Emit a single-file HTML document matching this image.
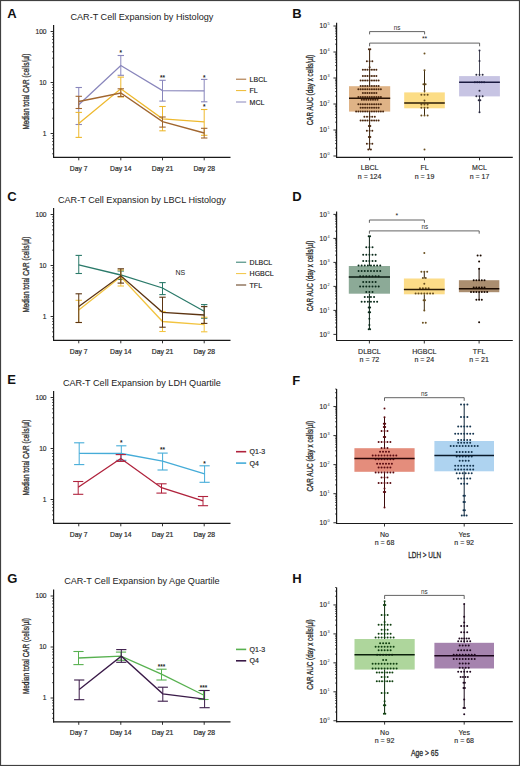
<!DOCTYPE html>
<html><head><meta charset="utf-8"><style>
html,body{margin:0;padding:0;background:#fff;}
svg{display:block;font-family:"Liberation Sans", sans-serif;}
</style></head><body>
<svg width="520" height="766" viewBox="0 0 520 766">
<rect x="0" y="0" width="520" height="766" fill="#fff"/>
<text x="7.20" y="18.10" font-size="13" text-anchor="start" font-weight="bold" fill="#111" >A</text>
<text x="141.90" y="19.70" font-size="9.1" text-anchor="middle" font-weight="normal" fill="#222" >CAR-T Cell Expansion by Histology</text>
<line x1="53.60" y1="25.00" x2="53.60" y2="157.90" stroke="#1a1a1a" stroke-width="1.2" />
<line x1="53.00" y1="157.30" x2="230.50" y2="157.30" stroke="#1a1a1a" stroke-width="1.2" />
<line x1="50.60" y1="31.50" x2="53.60" y2="31.50" stroke="#1a1a1a" stroke-width="0.9" />
<text x="46.60" y="33.80" font-size="6.7" text-anchor="end" font-weight="normal" fill="#2a2a2a" stroke="#2a2a2a" stroke-width="0.15" >100</text>
<line x1="50.60" y1="82.50" x2="53.60" y2="82.50" stroke="#1a1a1a" stroke-width="0.9" />
<text x="46.60" y="84.80" font-size="6.7" text-anchor="end" font-weight="normal" fill="#2a2a2a" stroke="#2a2a2a" stroke-width="0.15" >10</text>
<line x1="50.60" y1="133.50" x2="53.60" y2="133.50" stroke="#1a1a1a" stroke-width="0.9" />
<text x="46.60" y="135.80" font-size="6.7" text-anchor="end" font-weight="normal" fill="#2a2a2a" stroke="#2a2a2a" stroke-width="0.15" >1</text>
<line x1="52.00" y1="153.79" x2="53.60" y2="153.79" stroke="#1a1a1a" stroke-width="0.7" />
<line x1="52.00" y1="148.85" x2="53.60" y2="148.85" stroke="#1a1a1a" stroke-width="0.7" />
<line x1="52.00" y1="144.81" x2="53.60" y2="144.81" stroke="#1a1a1a" stroke-width="0.7" />
<line x1="52.00" y1="141.40" x2="53.60" y2="141.40" stroke="#1a1a1a" stroke-width="0.7" />
<line x1="52.00" y1="138.44" x2="53.60" y2="138.44" stroke="#1a1a1a" stroke-width="0.7" />
<line x1="52.00" y1="135.83" x2="53.60" y2="135.83" stroke="#1a1a1a" stroke-width="0.7" />
<line x1="52.00" y1="118.15" x2="53.60" y2="118.15" stroke="#1a1a1a" stroke-width="0.7" />
<line x1="52.00" y1="109.17" x2="53.60" y2="109.17" stroke="#1a1a1a" stroke-width="0.7" />
<line x1="52.00" y1="102.79" x2="53.60" y2="102.79" stroke="#1a1a1a" stroke-width="0.7" />
<line x1="52.00" y1="97.85" x2="53.60" y2="97.85" stroke="#1a1a1a" stroke-width="0.7" />
<line x1="52.00" y1="93.81" x2="53.60" y2="93.81" stroke="#1a1a1a" stroke-width="0.7" />
<line x1="52.00" y1="90.40" x2="53.60" y2="90.40" stroke="#1a1a1a" stroke-width="0.7" />
<line x1="52.00" y1="87.44" x2="53.60" y2="87.44" stroke="#1a1a1a" stroke-width="0.7" />
<line x1="52.00" y1="84.83" x2="53.60" y2="84.83" stroke="#1a1a1a" stroke-width="0.7" />
<line x1="52.00" y1="67.15" x2="53.60" y2="67.15" stroke="#1a1a1a" stroke-width="0.7" />
<line x1="52.00" y1="58.17" x2="53.60" y2="58.17" stroke="#1a1a1a" stroke-width="0.7" />
<line x1="52.00" y1="51.79" x2="53.60" y2="51.79" stroke="#1a1a1a" stroke-width="0.7" />
<line x1="52.00" y1="46.85" x2="53.60" y2="46.85" stroke="#1a1a1a" stroke-width="0.7" />
<line x1="52.00" y1="42.81" x2="53.60" y2="42.81" stroke="#1a1a1a" stroke-width="0.7" />
<line x1="52.00" y1="39.40" x2="53.60" y2="39.40" stroke="#1a1a1a" stroke-width="0.7" />
<line x1="52.00" y1="36.44" x2="53.60" y2="36.44" stroke="#1a1a1a" stroke-width="0.7" />
<line x1="52.00" y1="33.83" x2="53.60" y2="33.83" stroke="#1a1a1a" stroke-width="0.7" />
<line x1="78.75" y1="157.30" x2="78.75" y2="160.30" stroke="#1a1a1a" stroke-width="0.9" />
<text x="78.75" y="170.60" font-size="6.8" text-anchor="middle" font-weight="normal" fill="#2a2a2a" stroke="#2a2a2a" stroke-width="0.2" >Day 7</text>
<line x1="120.80" y1="157.30" x2="120.80" y2="160.30" stroke="#1a1a1a" stroke-width="0.9" />
<text x="120.80" y="170.60" font-size="6.8" text-anchor="middle" font-weight="normal" fill="#2a2a2a" stroke="#2a2a2a" stroke-width="0.2" >Day 14</text>
<line x1="162.50" y1="157.30" x2="162.50" y2="160.30" stroke="#1a1a1a" stroke-width="0.9" />
<text x="162.50" y="170.60" font-size="6.8" text-anchor="middle" font-weight="normal" fill="#2a2a2a" stroke="#2a2a2a" stroke-width="0.2" >Day 21</text>
<line x1="204.20" y1="157.30" x2="204.20" y2="160.30" stroke="#1a1a1a" stroke-width="0.9" />
<text x="204.20" y="170.60" font-size="6.8" text-anchor="middle" font-weight="normal" fill="#2a2a2a" stroke="#2a2a2a" stroke-width="0.2" >Day 28</text>
<text x="0" y="0" font-size="9.0" font-weight="normal" fill="#2a2a2a" stroke="#2a2a2a" stroke-width="0.3" text-anchor="middle" textLength="76" lengthAdjust="spacingAndGlyphs" transform="translate(29.4 91.55) rotate(-90)">Median total CAR (cells/µl)</text>
<line x1="78.75" y1="87.50" x2="78.75" y2="124.50" stroke="#8986bc" stroke-width="1.0" />
<line x1="75.55" y1="87.50" x2="81.95" y2="87.50" stroke="#8986bc" stroke-width="1.1" />
<line x1="75.55" y1="124.50" x2="81.95" y2="124.50" stroke="#8986bc" stroke-width="1.1" />
<line x1="120.80" y1="55.50" x2="120.80" y2="75.30" stroke="#8986bc" stroke-width="1.0" />
<line x1="117.60" y1="55.50" x2="124.00" y2="55.50" stroke="#8986bc" stroke-width="1.1" />
<line x1="117.60" y1="75.30" x2="124.00" y2="75.30" stroke="#8986bc" stroke-width="1.1" />
<line x1="162.50" y1="80.30" x2="162.50" y2="101.10" stroke="#8986bc" stroke-width="1.0" />
<line x1="159.30" y1="80.30" x2="165.70" y2="80.30" stroke="#8986bc" stroke-width="1.1" />
<line x1="159.30" y1="101.10" x2="165.70" y2="101.10" stroke="#8986bc" stroke-width="1.1" />
<line x1="204.20" y1="79.40" x2="204.20" y2="101.80" stroke="#8986bc" stroke-width="1.0" />
<line x1="201.00" y1="79.40" x2="207.40" y2="79.40" stroke="#8986bc" stroke-width="1.1" />
<line x1="201.00" y1="101.80" x2="207.40" y2="101.80" stroke="#8986bc" stroke-width="1.1" />
<polyline points="78.75,104.70 120.80,65.50 162.50,90.60 204.20,90.80" fill="none" stroke="#8986bc" stroke-width="1.3" stroke-linejoin="miter"/>
<line x1="78.75" y1="112.40" x2="78.75" y2="137.40" stroke="#eeb92e" stroke-width="1.0" />
<line x1="75.55" y1="112.40" x2="81.95" y2="112.40" stroke="#eeb92e" stroke-width="1.1" />
<line x1="75.55" y1="137.40" x2="81.95" y2="137.40" stroke="#eeb92e" stroke-width="1.1" />
<line x1="120.80" y1="77.10" x2="120.80" y2="97.00" stroke="#eeb92e" stroke-width="1.0" />
<line x1="117.60" y1="77.10" x2="124.00" y2="77.10" stroke="#eeb92e" stroke-width="1.1" />
<line x1="117.60" y1="97.00" x2="124.00" y2="97.00" stroke="#eeb92e" stroke-width="1.1" />
<line x1="162.50" y1="106.50" x2="162.50" y2="130.80" stroke="#eeb92e" stroke-width="1.0" />
<line x1="159.30" y1="106.50" x2="165.70" y2="106.50" stroke="#eeb92e" stroke-width="1.1" />
<line x1="159.30" y1="130.80" x2="165.70" y2="130.80" stroke="#eeb92e" stroke-width="1.1" />
<line x1="204.20" y1="109.50" x2="204.20" y2="135.30" stroke="#eeb92e" stroke-width="1.0" />
<line x1="201.00" y1="109.50" x2="207.40" y2="109.50" stroke="#eeb92e" stroke-width="1.1" />
<line x1="201.00" y1="135.30" x2="207.40" y2="135.30" stroke="#eeb92e" stroke-width="1.1" />
<polyline points="78.75,123.40 120.80,88.80 162.50,118.90 204.20,121.90" fill="none" stroke="#eeb92e" stroke-width="1.3" stroke-linejoin="miter"/>
<line x1="78.75" y1="96.30" x2="78.75" y2="108.50" stroke="#a1662f" stroke-width="1.0" />
<line x1="75.55" y1="96.30" x2="81.95" y2="96.30" stroke="#a1662f" stroke-width="1.1" />
<line x1="75.55" y1="108.50" x2="81.95" y2="108.50" stroke="#a1662f" stroke-width="1.1" />
<line x1="120.80" y1="88.80" x2="120.80" y2="96.50" stroke="#a1662f" stroke-width="1.0" />
<line x1="117.60" y1="88.80" x2="124.00" y2="88.80" stroke="#a1662f" stroke-width="1.1" />
<line x1="117.60" y1="96.50" x2="124.00" y2="96.50" stroke="#a1662f" stroke-width="1.1" />
<line x1="162.50" y1="117.00" x2="162.50" y2="127.10" stroke="#a1662f" stroke-width="1.0" />
<line x1="159.30" y1="117.00" x2="165.70" y2="117.00" stroke="#a1662f" stroke-width="1.1" />
<line x1="159.30" y1="127.10" x2="165.70" y2="127.10" stroke="#a1662f" stroke-width="1.1" />
<line x1="204.20" y1="128.30" x2="204.20" y2="138.00" stroke="#a1662f" stroke-width="1.0" />
<line x1="201.00" y1="128.30" x2="207.40" y2="128.30" stroke="#a1662f" stroke-width="1.1" />
<line x1="201.00" y1="138.00" x2="207.40" y2="138.00" stroke="#a1662f" stroke-width="1.1" />
<polyline points="78.75,101.50 120.80,93.00 162.50,121.60 204.20,133.00" fill="none" stroke="#a1662f" stroke-width="1.3" stroke-linejoin="miter"/>
<text x="120.80" y="54.90" font-size="6.4" text-anchor="middle" font-weight="bold" fill="#222" >*</text>
<text x="162.50" y="79.90" font-size="6.4" text-anchor="middle" font-weight="bold" fill="#222" >**</text>
<text x="204.20" y="79.70" font-size="6.4" text-anchor="middle" font-weight="bold" fill="#222" >*</text>
<text x="204.20" y="109.30" font-size="6.4" text-anchor="middle" font-weight="bold" fill="#222" >*</text>
<line x1="236.00" y1="79.20" x2="246.20" y2="79.20" stroke="#a1662f" stroke-width="1.0" />
<text x="249.60" y="81.70" font-size="7.0" text-anchor="start" font-weight="normal" fill="#222" stroke="#222" stroke-width="0.15" >LBCL</text>
<line x1="236.00" y1="90.60" x2="246.20" y2="90.60" stroke="#eeb92e" stroke-width="1.0" />
<text x="249.60" y="93.10" font-size="7.0" text-anchor="start" font-weight="normal" fill="#222" stroke="#222" stroke-width="0.15" >FL</text>
<line x1="236.00" y1="102.00" x2="246.20" y2="102.00" stroke="#8986bc" stroke-width="1.0" />
<text x="249.60" y="104.50" font-size="7.0" text-anchor="start" font-weight="normal" fill="#222" stroke="#222" stroke-width="0.15" >MCL</text>
<text x="7.20" y="201.10" font-size="13" text-anchor="start" font-weight="bold" fill="#111" >C</text>
<text x="141.90" y="202.70" font-size="9.1" text-anchor="middle" font-weight="normal" fill="#222" >CAR-T Cell Expansion by LBCL Histology</text>
<line x1="53.60" y1="208.00" x2="53.60" y2="340.90" stroke="#1a1a1a" stroke-width="1.2" />
<line x1="53.00" y1="340.30" x2="230.50" y2="340.30" stroke="#1a1a1a" stroke-width="1.2" />
<line x1="50.60" y1="214.50" x2="53.60" y2="214.50" stroke="#1a1a1a" stroke-width="0.9" />
<text x="46.60" y="216.80" font-size="6.7" text-anchor="end" font-weight="normal" fill="#2a2a2a" stroke="#2a2a2a" stroke-width="0.15" >100</text>
<line x1="50.60" y1="265.50" x2="53.60" y2="265.50" stroke="#1a1a1a" stroke-width="0.9" />
<text x="46.60" y="267.80" font-size="6.7" text-anchor="end" font-weight="normal" fill="#2a2a2a" stroke="#2a2a2a" stroke-width="0.15" >10</text>
<line x1="50.60" y1="316.50" x2="53.60" y2="316.50" stroke="#1a1a1a" stroke-width="0.9" />
<text x="46.60" y="318.80" font-size="6.7" text-anchor="end" font-weight="normal" fill="#2a2a2a" stroke="#2a2a2a" stroke-width="0.15" >1</text>
<line x1="52.00" y1="336.79" x2="53.60" y2="336.79" stroke="#1a1a1a" stroke-width="0.7" />
<line x1="52.00" y1="331.85" x2="53.60" y2="331.85" stroke="#1a1a1a" stroke-width="0.7" />
<line x1="52.00" y1="327.81" x2="53.60" y2="327.81" stroke="#1a1a1a" stroke-width="0.7" />
<line x1="52.00" y1="324.40" x2="53.60" y2="324.40" stroke="#1a1a1a" stroke-width="0.7" />
<line x1="52.00" y1="321.44" x2="53.60" y2="321.44" stroke="#1a1a1a" stroke-width="0.7" />
<line x1="52.00" y1="318.83" x2="53.60" y2="318.83" stroke="#1a1a1a" stroke-width="0.7" />
<line x1="52.00" y1="301.15" x2="53.60" y2="301.15" stroke="#1a1a1a" stroke-width="0.7" />
<line x1="52.00" y1="292.17" x2="53.60" y2="292.17" stroke="#1a1a1a" stroke-width="0.7" />
<line x1="52.00" y1="285.79" x2="53.60" y2="285.79" stroke="#1a1a1a" stroke-width="0.7" />
<line x1="52.00" y1="280.85" x2="53.60" y2="280.85" stroke="#1a1a1a" stroke-width="0.7" />
<line x1="52.00" y1="276.81" x2="53.60" y2="276.81" stroke="#1a1a1a" stroke-width="0.7" />
<line x1="52.00" y1="273.40" x2="53.60" y2="273.40" stroke="#1a1a1a" stroke-width="0.7" />
<line x1="52.00" y1="270.44" x2="53.60" y2="270.44" stroke="#1a1a1a" stroke-width="0.7" />
<line x1="52.00" y1="267.83" x2="53.60" y2="267.83" stroke="#1a1a1a" stroke-width="0.7" />
<line x1="52.00" y1="250.15" x2="53.60" y2="250.15" stroke="#1a1a1a" stroke-width="0.7" />
<line x1="52.00" y1="241.17" x2="53.60" y2="241.17" stroke="#1a1a1a" stroke-width="0.7" />
<line x1="52.00" y1="234.79" x2="53.60" y2="234.79" stroke="#1a1a1a" stroke-width="0.7" />
<line x1="52.00" y1="229.85" x2="53.60" y2="229.85" stroke="#1a1a1a" stroke-width="0.7" />
<line x1="52.00" y1="225.81" x2="53.60" y2="225.81" stroke="#1a1a1a" stroke-width="0.7" />
<line x1="52.00" y1="222.40" x2="53.60" y2="222.40" stroke="#1a1a1a" stroke-width="0.7" />
<line x1="52.00" y1="219.44" x2="53.60" y2="219.44" stroke="#1a1a1a" stroke-width="0.7" />
<line x1="52.00" y1="216.83" x2="53.60" y2="216.83" stroke="#1a1a1a" stroke-width="0.7" />
<line x1="78.75" y1="340.30" x2="78.75" y2="343.30" stroke="#1a1a1a" stroke-width="0.9" />
<text x="78.75" y="353.60" font-size="6.8" text-anchor="middle" font-weight="normal" fill="#2a2a2a" stroke="#2a2a2a" stroke-width="0.2" >Day 7</text>
<line x1="120.80" y1="340.30" x2="120.80" y2="343.30" stroke="#1a1a1a" stroke-width="0.9" />
<text x="120.80" y="353.60" font-size="6.8" text-anchor="middle" font-weight="normal" fill="#2a2a2a" stroke="#2a2a2a" stroke-width="0.2" >Day 14</text>
<line x1="162.50" y1="340.30" x2="162.50" y2="343.30" stroke="#1a1a1a" stroke-width="0.9" />
<text x="162.50" y="353.60" font-size="6.8" text-anchor="middle" font-weight="normal" fill="#2a2a2a" stroke="#2a2a2a" stroke-width="0.2" >Day 21</text>
<line x1="204.20" y1="340.30" x2="204.20" y2="343.30" stroke="#1a1a1a" stroke-width="0.9" />
<text x="204.20" y="353.60" font-size="6.8" text-anchor="middle" font-weight="normal" fill="#2a2a2a" stroke="#2a2a2a" stroke-width="0.2" >Day 28</text>
<text x="0" y="0" font-size="9.0" font-weight="normal" fill="#2a2a2a" stroke="#2a2a2a" stroke-width="0.3" text-anchor="middle" textLength="76" lengthAdjust="spacingAndGlyphs" transform="translate(29.4 274.55) rotate(-90)">Median total CAR (cells/µl)</text>
<line x1="78.75" y1="255.40" x2="78.75" y2="273.50" stroke="#2b7a6a" stroke-width="1.0" />
<line x1="75.55" y1="255.40" x2="81.95" y2="255.40" stroke="#2b7a6a" stroke-width="1.1" />
<line x1="75.55" y1="273.50" x2="81.95" y2="273.50" stroke="#2b7a6a" stroke-width="1.1" />
<line x1="120.80" y1="271.00" x2="120.80" y2="279.50" stroke="#2b7a6a" stroke-width="1.0" />
<line x1="117.60" y1="271.00" x2="124.00" y2="271.00" stroke="#2b7a6a" stroke-width="1.1" />
<line x1="117.60" y1="279.50" x2="124.00" y2="279.50" stroke="#2b7a6a" stroke-width="1.1" />
<line x1="162.50" y1="282.60" x2="162.50" y2="294.60" stroke="#2b7a6a" stroke-width="1.0" />
<line x1="159.30" y1="282.60" x2="165.70" y2="282.60" stroke="#2b7a6a" stroke-width="1.1" />
<line x1="159.30" y1="294.60" x2="165.70" y2="294.60" stroke="#2b7a6a" stroke-width="1.1" />
<line x1="204.20" y1="304.60" x2="204.20" y2="318.20" stroke="#2b7a6a" stroke-width="1.0" />
<line x1="201.00" y1="304.60" x2="207.40" y2="304.60" stroke="#2b7a6a" stroke-width="1.1" />
<line x1="201.00" y1="318.20" x2="207.40" y2="318.20" stroke="#2b7a6a" stroke-width="1.1" />
<polyline points="78.75,264.90 120.80,275.00 162.50,288.00 204.20,311.20" fill="none" stroke="#2b7a6a" stroke-width="1.3" stroke-linejoin="miter"/>
<line x1="78.75" y1="300.30" x2="78.75" y2="322.50" stroke="#f2c440" stroke-width="1.0" />
<line x1="75.55" y1="300.30" x2="81.95" y2="300.30" stroke="#f2c440" stroke-width="1.1" />
<line x1="75.55" y1="322.50" x2="81.95" y2="322.50" stroke="#f2c440" stroke-width="1.1" />
<line x1="120.80" y1="270.00" x2="120.80" y2="286.00" stroke="#f2c440" stroke-width="1.0" />
<line x1="117.60" y1="270.00" x2="124.00" y2="270.00" stroke="#f2c440" stroke-width="1.1" />
<line x1="117.60" y1="286.00" x2="124.00" y2="286.00" stroke="#f2c440" stroke-width="1.1" />
<line x1="162.50" y1="311.50" x2="162.50" y2="331.50" stroke="#f2c440" stroke-width="1.0" />
<line x1="159.30" y1="311.50" x2="165.70" y2="311.50" stroke="#f2c440" stroke-width="1.1" />
<line x1="159.30" y1="331.50" x2="165.70" y2="331.50" stroke="#f2c440" stroke-width="1.1" />
<line x1="204.20" y1="317.20" x2="204.20" y2="331.80" stroke="#f2c440" stroke-width="1.0" />
<line x1="201.00" y1="317.20" x2="207.40" y2="317.20" stroke="#f2c440" stroke-width="1.1" />
<line x1="201.00" y1="331.80" x2="207.40" y2="331.80" stroke="#f2c440" stroke-width="1.1" />
<polyline points="78.75,310.00 120.80,276.80 162.50,321.50 204.20,324.60" fill="none" stroke="#f2c440" stroke-width="1.3" stroke-linejoin="miter"/>
<line x1="78.75" y1="293.80" x2="78.75" y2="322.50" stroke="#5c3412" stroke-width="1.0" />
<line x1="75.55" y1="293.80" x2="81.95" y2="293.80" stroke="#5c3412" stroke-width="1.1" />
<line x1="75.55" y1="322.50" x2="81.95" y2="322.50" stroke="#5c3412" stroke-width="1.1" />
<line x1="120.80" y1="268.80" x2="120.80" y2="283.10" stroke="#5c3412" stroke-width="1.0" />
<line x1="117.60" y1="268.80" x2="124.00" y2="268.80" stroke="#5c3412" stroke-width="1.1" />
<line x1="117.60" y1="283.10" x2="124.00" y2="283.10" stroke="#5c3412" stroke-width="1.1" />
<line x1="162.50" y1="297.20" x2="162.50" y2="327.20" stroke="#5c3412" stroke-width="1.0" />
<line x1="159.30" y1="297.20" x2="165.70" y2="297.20" stroke="#5c3412" stroke-width="1.1" />
<line x1="159.30" y1="327.20" x2="165.70" y2="327.20" stroke="#5c3412" stroke-width="1.1" />
<line x1="204.20" y1="306.60" x2="204.20" y2="323.40" stroke="#5c3412" stroke-width="1.0" />
<line x1="201.00" y1="306.60" x2="207.40" y2="306.60" stroke="#5c3412" stroke-width="1.1" />
<line x1="201.00" y1="323.40" x2="207.40" y2="323.40" stroke="#5c3412" stroke-width="1.1" />
<polyline points="78.75,306.50 120.80,275.80 162.50,312.30 204.20,315.00" fill="none" stroke="#5c3412" stroke-width="1.3" stroke-linejoin="miter"/>
<line x1="236.00" y1="262.20" x2="246.20" y2="262.20" stroke="#2b7a6a" stroke-width="1.0" />
<text x="249.60" y="264.70" font-size="7.0" text-anchor="start" font-weight="normal" fill="#222" stroke="#222" stroke-width="0.15" >DLBCL</text>
<line x1="236.00" y1="273.60" x2="246.20" y2="273.60" stroke="#f2c440" stroke-width="1.0" />
<text x="249.60" y="276.10" font-size="7.0" text-anchor="start" font-weight="normal" fill="#222" stroke="#222" stroke-width="0.15" >HGBCL</text>
<line x1="236.00" y1="285.00" x2="246.20" y2="285.00" stroke="#5c3412" stroke-width="1.0" />
<text x="249.60" y="287.50" font-size="7.0" text-anchor="start" font-weight="normal" fill="#222" stroke="#222" stroke-width="0.15" >TFL</text>
<text x="180.30" y="275.30" font-size="7.0" text-anchor="middle" font-weight="normal" fill="#222" >NS</text>
<text x="7.20" y="384.10" font-size="13" text-anchor="start" font-weight="bold" fill="#111" >E</text>
<text x="141.90" y="385.70" font-size="9.1" text-anchor="middle" font-weight="normal" fill="#222" >CAR-T Cell Expansion by LDH Quartile</text>
<line x1="53.60" y1="391.00" x2="53.60" y2="523.90" stroke="#1a1a1a" stroke-width="1.2" />
<line x1="53.00" y1="523.30" x2="230.50" y2="523.30" stroke="#1a1a1a" stroke-width="1.2" />
<line x1="50.60" y1="397.50" x2="53.60" y2="397.50" stroke="#1a1a1a" stroke-width="0.9" />
<text x="46.60" y="399.80" font-size="6.7" text-anchor="end" font-weight="normal" fill="#2a2a2a" stroke="#2a2a2a" stroke-width="0.15" >100</text>
<line x1="50.60" y1="448.50" x2="53.60" y2="448.50" stroke="#1a1a1a" stroke-width="0.9" />
<text x="46.60" y="450.80" font-size="6.7" text-anchor="end" font-weight="normal" fill="#2a2a2a" stroke="#2a2a2a" stroke-width="0.15" >10</text>
<line x1="50.60" y1="499.50" x2="53.60" y2="499.50" stroke="#1a1a1a" stroke-width="0.9" />
<text x="46.60" y="501.80" font-size="6.7" text-anchor="end" font-weight="normal" fill="#2a2a2a" stroke="#2a2a2a" stroke-width="0.15" >1</text>
<line x1="52.00" y1="519.79" x2="53.60" y2="519.79" stroke="#1a1a1a" stroke-width="0.7" />
<line x1="52.00" y1="514.85" x2="53.60" y2="514.85" stroke="#1a1a1a" stroke-width="0.7" />
<line x1="52.00" y1="510.81" x2="53.60" y2="510.81" stroke="#1a1a1a" stroke-width="0.7" />
<line x1="52.00" y1="507.40" x2="53.60" y2="507.40" stroke="#1a1a1a" stroke-width="0.7" />
<line x1="52.00" y1="504.44" x2="53.60" y2="504.44" stroke="#1a1a1a" stroke-width="0.7" />
<line x1="52.00" y1="501.83" x2="53.60" y2="501.83" stroke="#1a1a1a" stroke-width="0.7" />
<line x1="52.00" y1="484.15" x2="53.60" y2="484.15" stroke="#1a1a1a" stroke-width="0.7" />
<line x1="52.00" y1="475.17" x2="53.60" y2="475.17" stroke="#1a1a1a" stroke-width="0.7" />
<line x1="52.00" y1="468.79" x2="53.60" y2="468.79" stroke="#1a1a1a" stroke-width="0.7" />
<line x1="52.00" y1="463.85" x2="53.60" y2="463.85" stroke="#1a1a1a" stroke-width="0.7" />
<line x1="52.00" y1="459.81" x2="53.60" y2="459.81" stroke="#1a1a1a" stroke-width="0.7" />
<line x1="52.00" y1="456.40" x2="53.60" y2="456.40" stroke="#1a1a1a" stroke-width="0.7" />
<line x1="52.00" y1="453.44" x2="53.60" y2="453.44" stroke="#1a1a1a" stroke-width="0.7" />
<line x1="52.00" y1="450.83" x2="53.60" y2="450.83" stroke="#1a1a1a" stroke-width="0.7" />
<line x1="52.00" y1="433.15" x2="53.60" y2="433.15" stroke="#1a1a1a" stroke-width="0.7" />
<line x1="52.00" y1="424.17" x2="53.60" y2="424.17" stroke="#1a1a1a" stroke-width="0.7" />
<line x1="52.00" y1="417.79" x2="53.60" y2="417.79" stroke="#1a1a1a" stroke-width="0.7" />
<line x1="52.00" y1="412.85" x2="53.60" y2="412.85" stroke="#1a1a1a" stroke-width="0.7" />
<line x1="52.00" y1="408.81" x2="53.60" y2="408.81" stroke="#1a1a1a" stroke-width="0.7" />
<line x1="52.00" y1="405.40" x2="53.60" y2="405.40" stroke="#1a1a1a" stroke-width="0.7" />
<line x1="52.00" y1="402.44" x2="53.60" y2="402.44" stroke="#1a1a1a" stroke-width="0.7" />
<line x1="52.00" y1="399.83" x2="53.60" y2="399.83" stroke="#1a1a1a" stroke-width="0.7" />
<line x1="78.75" y1="523.30" x2="78.75" y2="526.30" stroke="#1a1a1a" stroke-width="0.9" />
<text x="78.75" y="536.60" font-size="6.8" text-anchor="middle" font-weight="normal" fill="#2a2a2a" stroke="#2a2a2a" stroke-width="0.2" >Day 7</text>
<line x1="120.80" y1="523.30" x2="120.80" y2="526.30" stroke="#1a1a1a" stroke-width="0.9" />
<text x="120.80" y="536.60" font-size="6.8" text-anchor="middle" font-weight="normal" fill="#2a2a2a" stroke="#2a2a2a" stroke-width="0.2" >Day 14</text>
<line x1="162.50" y1="523.30" x2="162.50" y2="526.30" stroke="#1a1a1a" stroke-width="0.9" />
<text x="162.50" y="536.60" font-size="6.8" text-anchor="middle" font-weight="normal" fill="#2a2a2a" stroke="#2a2a2a" stroke-width="0.2" >Day 21</text>
<line x1="204.20" y1="523.30" x2="204.20" y2="526.30" stroke="#1a1a1a" stroke-width="0.9" />
<text x="204.20" y="536.60" font-size="6.8" text-anchor="middle" font-weight="normal" fill="#2a2a2a" stroke="#2a2a2a" stroke-width="0.2" >Day 28</text>
<text x="0" y="0" font-size="9.0" font-weight="normal" fill="#2a2a2a" stroke="#2a2a2a" stroke-width="0.3" text-anchor="middle" textLength="76" lengthAdjust="spacingAndGlyphs" transform="translate(29.4 457.55) rotate(-90)">Median total CAR (cells/µl)</text>
<line x1="79.20" y1="442.80" x2="79.20" y2="464.60" stroke="#45acd8" stroke-width="1.0" />
<line x1="74.10" y1="442.80" x2="84.30" y2="442.80" stroke="#45acd8" stroke-width="1.1" />
<line x1="74.10" y1="464.60" x2="84.30" y2="464.60" stroke="#45acd8" stroke-width="1.1" />
<line x1="121.30" y1="445.80" x2="121.30" y2="460.30" stroke="#45acd8" stroke-width="1.0" />
<line x1="116.20" y1="445.80" x2="126.40" y2="445.80" stroke="#45acd8" stroke-width="1.1" />
<line x1="116.20" y1="460.30" x2="126.40" y2="460.30" stroke="#45acd8" stroke-width="1.1" />
<line x1="162.60" y1="453.10" x2="162.60" y2="470.00" stroke="#45acd8" stroke-width="1.0" />
<line x1="157.50" y1="453.10" x2="167.70" y2="453.10" stroke="#45acd8" stroke-width="1.1" />
<line x1="157.50" y1="470.00" x2="167.70" y2="470.00" stroke="#45acd8" stroke-width="1.1" />
<line x1="204.60" y1="465.80" x2="204.60" y2="482.30" stroke="#45acd8" stroke-width="1.0" />
<line x1="199.50" y1="465.80" x2="209.70" y2="465.80" stroke="#45acd8" stroke-width="1.1" />
<line x1="199.50" y1="482.30" x2="209.70" y2="482.30" stroke="#45acd8" stroke-width="1.1" />
<polyline points="79.20,453.40 121.30,453.50 162.60,461.10 204.60,473.80" fill="none" stroke="#45acd8" stroke-width="1.35" stroke-linejoin="miter"/>
<line x1="78.20" y1="481.50" x2="78.20" y2="494.30" stroke="#b0233d" stroke-width="1.0" />
<line x1="73.10" y1="481.50" x2="83.30" y2="481.50" stroke="#b0233d" stroke-width="1.1" />
<line x1="73.10" y1="494.30" x2="83.30" y2="494.30" stroke="#b0233d" stroke-width="1.1" />
<line x1="120.80" y1="454.60" x2="120.80" y2="461.40" stroke="#b0233d" stroke-width="1.0" />
<line x1="115.70" y1="454.60" x2="125.90" y2="454.60" stroke="#b0233d" stroke-width="1.1" />
<line x1="115.70" y1="461.40" x2="125.90" y2="461.40" stroke="#b0233d" stroke-width="1.1" />
<line x1="161.50" y1="483.80" x2="161.50" y2="493.10" stroke="#b0233d" stroke-width="1.0" />
<line x1="156.40" y1="483.80" x2="166.60" y2="483.80" stroke="#b0233d" stroke-width="1.1" />
<line x1="156.40" y1="493.10" x2="166.60" y2="493.10" stroke="#b0233d" stroke-width="1.1" />
<line x1="203.00" y1="496.50" x2="203.00" y2="505.70" stroke="#b0233d" stroke-width="1.0" />
<line x1="197.90" y1="496.50" x2="208.10" y2="496.50" stroke="#b0233d" stroke-width="1.1" />
<line x1="197.90" y1="505.70" x2="208.10" y2="505.70" stroke="#b0233d" stroke-width="1.1" />
<polyline points="78.20,487.20 120.80,458.50 161.50,487.70 203.00,500.80" fill="none" stroke="#b0233d" stroke-width="1.35" stroke-linejoin="miter"/>
<text x="121.30" y="445.00" font-size="6.4" text-anchor="middle" font-weight="bold" fill="#222" >*</text>
<text x="162.60" y="452.40" font-size="6.4" text-anchor="middle" font-weight="bold" fill="#222" >**</text>
<text x="204.60" y="465.70" font-size="6.4" text-anchor="middle" font-weight="bold" fill="#222" >*</text>
<line x1="236.00" y1="451.70" x2="246.20" y2="451.70" stroke="#b0233d" stroke-width="1.6" />
<text x="249.60" y="454.20" font-size="7.0" text-anchor="start" font-weight="normal" fill="#222" stroke="#222" stroke-width="0.15" >Q1-3</text>
<line x1="236.00" y1="463.10" x2="246.20" y2="463.10" stroke="#45acd8" stroke-width="1.6" />
<text x="249.60" y="465.60" font-size="7.0" text-anchor="start" font-weight="normal" fill="#222" stroke="#222" stroke-width="0.15" >Q4</text>
<text x="7.20" y="582.60" font-size="13" text-anchor="start" font-weight="bold" fill="#111" >G</text>
<text x="141.90" y="584.20" font-size="9.1" text-anchor="middle" font-weight="normal" fill="#222" >CAR-T Cell Expansion by Age Quartile</text>
<line x1="53.60" y1="589.50" x2="53.60" y2="722.40" stroke="#1a1a1a" stroke-width="1.2" />
<line x1="53.00" y1="721.80" x2="230.50" y2="721.80" stroke="#1a1a1a" stroke-width="1.2" />
<line x1="50.60" y1="596.00" x2="53.60" y2="596.00" stroke="#1a1a1a" stroke-width="0.9" />
<text x="46.60" y="598.30" font-size="6.7" text-anchor="end" font-weight="normal" fill="#2a2a2a" stroke="#2a2a2a" stroke-width="0.15" >100</text>
<line x1="50.60" y1="647.00" x2="53.60" y2="647.00" stroke="#1a1a1a" stroke-width="0.9" />
<text x="46.60" y="649.30" font-size="6.7" text-anchor="end" font-weight="normal" fill="#2a2a2a" stroke="#2a2a2a" stroke-width="0.15" >10</text>
<line x1="50.60" y1="698.00" x2="53.60" y2="698.00" stroke="#1a1a1a" stroke-width="0.9" />
<text x="46.60" y="700.30" font-size="6.7" text-anchor="end" font-weight="normal" fill="#2a2a2a" stroke="#2a2a2a" stroke-width="0.15" >1</text>
<line x1="52.00" y1="718.29" x2="53.60" y2="718.29" stroke="#1a1a1a" stroke-width="0.7" />
<line x1="52.00" y1="713.35" x2="53.60" y2="713.35" stroke="#1a1a1a" stroke-width="0.7" />
<line x1="52.00" y1="709.31" x2="53.60" y2="709.31" stroke="#1a1a1a" stroke-width="0.7" />
<line x1="52.00" y1="705.90" x2="53.60" y2="705.90" stroke="#1a1a1a" stroke-width="0.7" />
<line x1="52.00" y1="702.94" x2="53.60" y2="702.94" stroke="#1a1a1a" stroke-width="0.7" />
<line x1="52.00" y1="700.33" x2="53.60" y2="700.33" stroke="#1a1a1a" stroke-width="0.7" />
<line x1="52.00" y1="682.65" x2="53.60" y2="682.65" stroke="#1a1a1a" stroke-width="0.7" />
<line x1="52.00" y1="673.67" x2="53.60" y2="673.67" stroke="#1a1a1a" stroke-width="0.7" />
<line x1="52.00" y1="667.29" x2="53.60" y2="667.29" stroke="#1a1a1a" stroke-width="0.7" />
<line x1="52.00" y1="662.35" x2="53.60" y2="662.35" stroke="#1a1a1a" stroke-width="0.7" />
<line x1="52.00" y1="658.31" x2="53.60" y2="658.31" stroke="#1a1a1a" stroke-width="0.7" />
<line x1="52.00" y1="654.90" x2="53.60" y2="654.90" stroke="#1a1a1a" stroke-width="0.7" />
<line x1="52.00" y1="651.94" x2="53.60" y2="651.94" stroke="#1a1a1a" stroke-width="0.7" />
<line x1="52.00" y1="649.33" x2="53.60" y2="649.33" stroke="#1a1a1a" stroke-width="0.7" />
<line x1="52.00" y1="631.65" x2="53.60" y2="631.65" stroke="#1a1a1a" stroke-width="0.7" />
<line x1="52.00" y1="622.67" x2="53.60" y2="622.67" stroke="#1a1a1a" stroke-width="0.7" />
<line x1="52.00" y1="616.29" x2="53.60" y2="616.29" stroke="#1a1a1a" stroke-width="0.7" />
<line x1="52.00" y1="611.35" x2="53.60" y2="611.35" stroke="#1a1a1a" stroke-width="0.7" />
<line x1="52.00" y1="607.31" x2="53.60" y2="607.31" stroke="#1a1a1a" stroke-width="0.7" />
<line x1="52.00" y1="603.90" x2="53.60" y2="603.90" stroke="#1a1a1a" stroke-width="0.7" />
<line x1="52.00" y1="600.94" x2="53.60" y2="600.94" stroke="#1a1a1a" stroke-width="0.7" />
<line x1="52.00" y1="598.33" x2="53.60" y2="598.33" stroke="#1a1a1a" stroke-width="0.7" />
<line x1="78.75" y1="721.80" x2="78.75" y2="724.80" stroke="#1a1a1a" stroke-width="0.9" />
<text x="78.75" y="735.10" font-size="6.8" text-anchor="middle" font-weight="normal" fill="#2a2a2a" stroke="#2a2a2a" stroke-width="0.2" >Day 7</text>
<line x1="120.80" y1="721.80" x2="120.80" y2="724.80" stroke="#1a1a1a" stroke-width="0.9" />
<text x="120.80" y="735.10" font-size="6.8" text-anchor="middle" font-weight="normal" fill="#2a2a2a" stroke="#2a2a2a" stroke-width="0.2" >Day 14</text>
<line x1="162.50" y1="721.80" x2="162.50" y2="724.80" stroke="#1a1a1a" stroke-width="0.9" />
<text x="162.50" y="735.10" font-size="6.8" text-anchor="middle" font-weight="normal" fill="#2a2a2a" stroke="#2a2a2a" stroke-width="0.2" >Day 21</text>
<line x1="204.20" y1="721.80" x2="204.20" y2="724.80" stroke="#1a1a1a" stroke-width="0.9" />
<text x="204.20" y="735.10" font-size="6.8" text-anchor="middle" font-weight="normal" fill="#2a2a2a" stroke="#2a2a2a" stroke-width="0.2" >Day 28</text>
<text x="0" y="0" font-size="9.0" font-weight="normal" fill="#2a2a2a" stroke="#2a2a2a" stroke-width="0.3" text-anchor="middle" textLength="76" lengthAdjust="spacingAndGlyphs" transform="translate(29.4 656.05) rotate(-90)">Median total CAR (cells/µl)</text>
<line x1="78.50" y1="651.50" x2="78.50" y2="664.60" stroke="#58b150" stroke-width="1.0" />
<line x1="73.40" y1="651.50" x2="83.60" y2="651.50" stroke="#58b150" stroke-width="1.1" />
<line x1="73.40" y1="664.60" x2="83.60" y2="664.60" stroke="#58b150" stroke-width="1.1" />
<line x1="121.00" y1="652.10" x2="121.00" y2="660.30" stroke="#58b150" stroke-width="1.0" />
<line x1="115.90" y1="652.10" x2="126.10" y2="652.10" stroke="#58b150" stroke-width="1.1" />
<line x1="115.90" y1="660.30" x2="126.10" y2="660.30" stroke="#58b150" stroke-width="1.1" />
<line x1="161.50" y1="669.20" x2="161.50" y2="680.00" stroke="#58b150" stroke-width="1.0" />
<line x1="156.40" y1="669.20" x2="166.60" y2="669.20" stroke="#58b150" stroke-width="1.1" />
<line x1="156.40" y1="680.00" x2="166.60" y2="680.00" stroke="#58b150" stroke-width="1.1" />
<line x1="203.50" y1="690.50" x2="203.50" y2="699.50" stroke="#58b150" stroke-width="1.0" />
<line x1="198.40" y1="690.50" x2="208.60" y2="690.50" stroke="#58b150" stroke-width="1.1" />
<line x1="198.40" y1="699.50" x2="208.60" y2="699.50" stroke="#58b150" stroke-width="1.1" />
<polyline points="78.50,658.00 121.00,656.20 161.50,674.20 203.50,695.00" fill="none" stroke="#58b150" stroke-width="1.3" stroke-linejoin="miter"/>
<line x1="79.20" y1="680.00" x2="79.20" y2="699.70" stroke="#3a1a48" stroke-width="1.0" />
<line x1="74.10" y1="680.00" x2="84.30" y2="680.00" stroke="#3a1a48" stroke-width="1.1" />
<line x1="74.10" y1="699.70" x2="84.30" y2="699.70" stroke="#3a1a48" stroke-width="1.1" />
<line x1="121.30" y1="649.60" x2="121.30" y2="662.30" stroke="#3a1a48" stroke-width="1.0" />
<line x1="116.20" y1="649.60" x2="126.40" y2="649.60" stroke="#3a1a48" stroke-width="1.1" />
<line x1="116.20" y1="662.30" x2="126.40" y2="662.30" stroke="#3a1a48" stroke-width="1.1" />
<line x1="162.80" y1="687.20" x2="162.80" y2="701.20" stroke="#3a1a48" stroke-width="1.0" />
<line x1="157.70" y1="687.20" x2="167.90" y2="687.20" stroke="#3a1a48" stroke-width="1.1" />
<line x1="157.70" y1="701.20" x2="167.90" y2="701.20" stroke="#3a1a48" stroke-width="1.1" />
<line x1="204.60" y1="690.50" x2="204.60" y2="707.70" stroke="#3a1a48" stroke-width="1.0" />
<line x1="199.50" y1="690.50" x2="209.70" y2="690.50" stroke="#3a1a48" stroke-width="1.1" />
<line x1="199.50" y1="707.70" x2="209.70" y2="707.70" stroke="#3a1a48" stroke-width="1.1" />
<polyline points="79.20,689.50 121.30,656.20 162.80,693.80 204.60,699.20" fill="none" stroke="#3a1a48" stroke-width="1.3" stroke-linejoin="miter"/>
<text x="161.50" y="668.70" font-size="6.4" text-anchor="middle" font-weight="bold" fill="#222" >***</text>
<text x="203.50" y="690.30" font-size="6.4" text-anchor="middle" font-weight="bold" fill="#222" >***</text>
<line x1="236.00" y1="649.40" x2="246.20" y2="649.40" stroke="#58b150" stroke-width="1.6" />
<text x="249.60" y="651.90" font-size="7.0" text-anchor="start" font-weight="normal" fill="#222" stroke="#222" stroke-width="0.15" >Q1-3</text>
<line x1="236.00" y1="660.80" x2="246.20" y2="660.80" stroke="#3a1a48" stroke-width="1.6" />
<text x="249.60" y="663.30" font-size="7.0" text-anchor="start" font-weight="normal" fill="#222" stroke="#222" stroke-width="0.15" >Q4</text>
<text x="292.20" y="18.10" font-size="13" text-anchor="start" font-weight="bold" fill="#111" >B</text>
<line x1="336.60" y1="22.80" x2="336.60" y2="157.90" stroke="#1a1a1a" stroke-width="1.2" />
<line x1="336.00" y1="157.30" x2="512.80" y2="157.30" stroke="#1a1a1a" stroke-width="1.2" />
<line x1="333.40" y1="156.00" x2="336.60" y2="156.00" stroke="#1a1a1a" stroke-width="0.9" />
<text x="326.80" y="158.40" font-size="6.5" text-anchor="end" font-weight="normal" fill="#2a2a2a" stroke="#2a2a2a" stroke-width="0.15" >10</text>
<text x="327.60" y="155.40" font-size="3.8" text-anchor="start" font-weight="normal" fill="#2a2a2a" >0</text>
<line x1="335.00" y1="148.17" x2="336.60" y2="148.17" stroke="#1a1a1a" stroke-width="0.7" />
<line x1="335.00" y1="143.59" x2="336.60" y2="143.59" stroke="#1a1a1a" stroke-width="0.7" />
<line x1="335.00" y1="140.35" x2="336.60" y2="140.35" stroke="#1a1a1a" stroke-width="0.7" />
<line x1="335.00" y1="137.83" x2="336.60" y2="137.83" stroke="#1a1a1a" stroke-width="0.7" />
<line x1="335.00" y1="135.77" x2="336.60" y2="135.77" stroke="#1a1a1a" stroke-width="0.7" />
<line x1="335.00" y1="134.03" x2="336.60" y2="134.03" stroke="#1a1a1a" stroke-width="0.7" />
<line x1="335.00" y1="132.52" x2="336.60" y2="132.52" stroke="#1a1a1a" stroke-width="0.7" />
<line x1="335.00" y1="131.19" x2="336.60" y2="131.19" stroke="#1a1a1a" stroke-width="0.7" />
<line x1="333.40" y1="130.00" x2="336.60" y2="130.00" stroke="#1a1a1a" stroke-width="0.9" />
<text x="326.80" y="132.40" font-size="6.5" text-anchor="end" font-weight="normal" fill="#2a2a2a" stroke="#2a2a2a" stroke-width="0.15" >10</text>
<text x="327.60" y="129.40" font-size="3.8" text-anchor="start" font-weight="normal" fill="#2a2a2a" >1</text>
<line x1="335.00" y1="122.17" x2="336.60" y2="122.17" stroke="#1a1a1a" stroke-width="0.7" />
<line x1="335.00" y1="117.59" x2="336.60" y2="117.59" stroke="#1a1a1a" stroke-width="0.7" />
<line x1="335.00" y1="114.35" x2="336.60" y2="114.35" stroke="#1a1a1a" stroke-width="0.7" />
<line x1="335.00" y1="111.83" x2="336.60" y2="111.83" stroke="#1a1a1a" stroke-width="0.7" />
<line x1="335.00" y1="109.77" x2="336.60" y2="109.77" stroke="#1a1a1a" stroke-width="0.7" />
<line x1="335.00" y1="108.03" x2="336.60" y2="108.03" stroke="#1a1a1a" stroke-width="0.7" />
<line x1="335.00" y1="106.52" x2="336.60" y2="106.52" stroke="#1a1a1a" stroke-width="0.7" />
<line x1="335.00" y1="105.19" x2="336.60" y2="105.19" stroke="#1a1a1a" stroke-width="0.7" />
<line x1="333.40" y1="104.00" x2="336.60" y2="104.00" stroke="#1a1a1a" stroke-width="0.9" />
<text x="326.80" y="106.40" font-size="6.5" text-anchor="end" font-weight="normal" fill="#2a2a2a" stroke="#2a2a2a" stroke-width="0.15" >10</text>
<text x="327.60" y="103.40" font-size="3.8" text-anchor="start" font-weight="normal" fill="#2a2a2a" >2</text>
<line x1="335.00" y1="96.17" x2="336.60" y2="96.17" stroke="#1a1a1a" stroke-width="0.7" />
<line x1="335.00" y1="91.59" x2="336.60" y2="91.59" stroke="#1a1a1a" stroke-width="0.7" />
<line x1="335.00" y1="88.35" x2="336.60" y2="88.35" stroke="#1a1a1a" stroke-width="0.7" />
<line x1="335.00" y1="85.83" x2="336.60" y2="85.83" stroke="#1a1a1a" stroke-width="0.7" />
<line x1="335.00" y1="83.77" x2="336.60" y2="83.77" stroke="#1a1a1a" stroke-width="0.7" />
<line x1="335.00" y1="82.03" x2="336.60" y2="82.03" stroke="#1a1a1a" stroke-width="0.7" />
<line x1="335.00" y1="80.52" x2="336.60" y2="80.52" stroke="#1a1a1a" stroke-width="0.7" />
<line x1="335.00" y1="79.19" x2="336.60" y2="79.19" stroke="#1a1a1a" stroke-width="0.7" />
<line x1="333.40" y1="78.00" x2="336.60" y2="78.00" stroke="#1a1a1a" stroke-width="0.9" />
<text x="326.80" y="80.40" font-size="6.5" text-anchor="end" font-weight="normal" fill="#2a2a2a" stroke="#2a2a2a" stroke-width="0.15" >10</text>
<text x="327.60" y="77.40" font-size="3.8" text-anchor="start" font-weight="normal" fill="#2a2a2a" >3</text>
<line x1="335.00" y1="70.17" x2="336.60" y2="70.17" stroke="#1a1a1a" stroke-width="0.7" />
<line x1="335.00" y1="65.59" x2="336.60" y2="65.59" stroke="#1a1a1a" stroke-width="0.7" />
<line x1="335.00" y1="62.35" x2="336.60" y2="62.35" stroke="#1a1a1a" stroke-width="0.7" />
<line x1="335.00" y1="59.83" x2="336.60" y2="59.83" stroke="#1a1a1a" stroke-width="0.7" />
<line x1="335.00" y1="57.77" x2="336.60" y2="57.77" stroke="#1a1a1a" stroke-width="0.7" />
<line x1="335.00" y1="56.03" x2="336.60" y2="56.03" stroke="#1a1a1a" stroke-width="0.7" />
<line x1="335.00" y1="54.52" x2="336.60" y2="54.52" stroke="#1a1a1a" stroke-width="0.7" />
<line x1="335.00" y1="53.19" x2="336.60" y2="53.19" stroke="#1a1a1a" stroke-width="0.7" />
<line x1="333.40" y1="52.00" x2="336.60" y2="52.00" stroke="#1a1a1a" stroke-width="0.9" />
<text x="326.80" y="54.40" font-size="6.5" text-anchor="end" font-weight="normal" fill="#2a2a2a" stroke="#2a2a2a" stroke-width="0.15" >10</text>
<text x="327.60" y="51.40" font-size="3.8" text-anchor="start" font-weight="normal" fill="#2a2a2a" >4</text>
<line x1="335.00" y1="44.17" x2="336.60" y2="44.17" stroke="#1a1a1a" stroke-width="0.7" />
<line x1="335.00" y1="39.59" x2="336.60" y2="39.59" stroke="#1a1a1a" stroke-width="0.7" />
<line x1="335.00" y1="36.35" x2="336.60" y2="36.35" stroke="#1a1a1a" stroke-width="0.7" />
<line x1="335.00" y1="33.83" x2="336.60" y2="33.83" stroke="#1a1a1a" stroke-width="0.7" />
<line x1="335.00" y1="31.77" x2="336.60" y2="31.77" stroke="#1a1a1a" stroke-width="0.7" />
<line x1="335.00" y1="30.03" x2="336.60" y2="30.03" stroke="#1a1a1a" stroke-width="0.7" />
<line x1="335.00" y1="28.52" x2="336.60" y2="28.52" stroke="#1a1a1a" stroke-width="0.7" />
<line x1="335.00" y1="27.19" x2="336.60" y2="27.19" stroke="#1a1a1a" stroke-width="0.7" />
<line x1="333.40" y1="26.00" x2="336.60" y2="26.00" stroke="#1a1a1a" stroke-width="0.9" />
<text x="326.80" y="28.40" font-size="6.5" text-anchor="end" font-weight="normal" fill="#2a2a2a" stroke="#2a2a2a" stroke-width="0.15" >10</text>
<text x="327.60" y="25.40" font-size="3.8" text-anchor="start" font-weight="normal" fill="#2a2a2a" >5</text>
<text x="0" y="0" font-size="8.8" font-weight="normal" fill="#2a2a2a" stroke="#2a2a2a" stroke-width="0.3" text-anchor="middle" textLength="70.5" lengthAdjust="spacingAndGlyphs" transform="translate(313.4 90.05) rotate(-90)">CAR AUC (day x cells/µl)</text>
<rect x="349.00" y="86.20" width="41.20" height="25.40" fill="#dfb386"/>
<line x1="369.60" y1="49.30" x2="369.60" y2="86.20" stroke="#3a200a" stroke-width="1.0" />
<line x1="369.60" y1="111.60" x2="369.60" y2="149.60" stroke="#3a200a" stroke-width="1.0" />
<circle cx="368.90" cy="49.30" r="1.0" fill="#4a2810"/>
<circle cx="370.30" cy="49.30" r="1.0" fill="#4a2810"/>
<circle cx="366.90" cy="61.20" r="1.0" fill="#4a2810"/>
<circle cx="369.60" cy="61.20" r="1.0" fill="#4a2810"/>
<circle cx="372.30" cy="61.20" r="1.0" fill="#4a2810"/>
<circle cx="369.60" cy="67.30" r="1.0" fill="#4a2810"/>
<circle cx="362.85" cy="69.80" r="1.0" fill="#4a2810"/>
<circle cx="365.10" cy="69.80" r="1.0" fill="#4a2810"/>
<circle cx="367.35" cy="69.80" r="1.0" fill="#4a2810"/>
<circle cx="369.60" cy="69.80" r="1.0" fill="#4a2810"/>
<circle cx="371.85" cy="69.80" r="1.0" fill="#4a2810"/>
<circle cx="374.10" cy="69.80" r="1.0" fill="#4a2810"/>
<circle cx="376.35" cy="69.80" r="1.0" fill="#4a2810"/>
<circle cx="362.85" cy="76.00" r="1.0" fill="#4a2810"/>
<circle cx="365.10" cy="76.00" r="1.0" fill="#4a2810"/>
<circle cx="367.35" cy="76.00" r="1.0" fill="#4a2810"/>
<circle cx="369.60" cy="76.00" r="1.0" fill="#4a2810"/>
<circle cx="371.85" cy="76.00" r="1.0" fill="#4a2810"/>
<circle cx="374.10" cy="76.00" r="1.0" fill="#4a2810"/>
<circle cx="376.35" cy="76.00" r="1.0" fill="#4a2810"/>
<circle cx="360.60" cy="80.60" r="1.0" fill="#4a2810"/>
<circle cx="362.85" cy="80.60" r="1.0" fill="#4a2810"/>
<circle cx="365.10" cy="80.60" r="1.0" fill="#4a2810"/>
<circle cx="367.35" cy="80.60" r="1.0" fill="#4a2810"/>
<circle cx="369.60" cy="80.60" r="1.0" fill="#4a2810"/>
<circle cx="371.85" cy="80.60" r="1.0" fill="#4a2810"/>
<circle cx="374.10" cy="80.60" r="1.0" fill="#4a2810"/>
<circle cx="376.35" cy="80.60" r="1.0" fill="#4a2810"/>
<circle cx="378.60" cy="80.60" r="1.0" fill="#4a2810"/>
<circle cx="360.60" cy="85.90" r="1.0" fill="#4a2810"/>
<circle cx="362.85" cy="85.90" r="1.0" fill="#4a2810"/>
<circle cx="365.10" cy="85.90" r="1.0" fill="#4a2810"/>
<circle cx="367.35" cy="85.90" r="1.0" fill="#4a2810"/>
<circle cx="369.60" cy="85.90" r="1.0" fill="#4a2810"/>
<circle cx="371.85" cy="85.90" r="1.0" fill="#4a2810"/>
<circle cx="374.10" cy="85.90" r="1.0" fill="#4a2810"/>
<circle cx="376.35" cy="85.90" r="1.0" fill="#4a2810"/>
<circle cx="378.60" cy="85.90" r="1.0" fill="#4a2810"/>
<circle cx="358.35" cy="89.20" r="1.0" fill="#4a2810"/>
<circle cx="360.60" cy="89.20" r="1.0" fill="#4a2810"/>
<circle cx="362.85" cy="89.20" r="1.0" fill="#4a2810"/>
<circle cx="365.10" cy="89.20" r="1.0" fill="#4a2810"/>
<circle cx="367.35" cy="89.20" r="1.0" fill="#4a2810"/>
<circle cx="369.60" cy="89.20" r="1.0" fill="#4a2810"/>
<circle cx="371.85" cy="89.20" r="1.0" fill="#4a2810"/>
<circle cx="374.10" cy="89.20" r="1.0" fill="#4a2810"/>
<circle cx="376.35" cy="89.20" r="1.0" fill="#4a2810"/>
<circle cx="378.60" cy="89.20" r="1.0" fill="#4a2810"/>
<circle cx="380.85" cy="89.20" r="1.0" fill="#4a2810"/>
<circle cx="362.85" cy="93.10" r="1.0" fill="#4a2810"/>
<circle cx="365.10" cy="93.10" r="1.0" fill="#4a2810"/>
<circle cx="367.35" cy="93.10" r="1.0" fill="#4a2810"/>
<circle cx="369.60" cy="93.10" r="1.0" fill="#4a2810"/>
<circle cx="371.85" cy="93.10" r="1.0" fill="#4a2810"/>
<circle cx="374.10" cy="93.10" r="1.0" fill="#4a2810"/>
<circle cx="376.35" cy="93.10" r="1.0" fill="#4a2810"/>
<circle cx="358.35" cy="96.90" r="1.0" fill="#4a2810"/>
<circle cx="360.60" cy="96.90" r="1.0" fill="#4a2810"/>
<circle cx="362.85" cy="96.90" r="1.0" fill="#4a2810"/>
<circle cx="365.10" cy="96.90" r="1.0" fill="#4a2810"/>
<circle cx="367.35" cy="96.90" r="1.0" fill="#4a2810"/>
<circle cx="369.60" cy="96.90" r="1.0" fill="#4a2810"/>
<circle cx="371.85" cy="96.90" r="1.0" fill="#4a2810"/>
<circle cx="374.10" cy="96.90" r="1.0" fill="#4a2810"/>
<circle cx="376.35" cy="96.90" r="1.0" fill="#4a2810"/>
<circle cx="378.60" cy="96.90" r="1.0" fill="#4a2810"/>
<circle cx="380.85" cy="96.90" r="1.0" fill="#4a2810"/>
<circle cx="361.73" cy="99.80" r="1.0" fill="#4a2810"/>
<circle cx="363.98" cy="99.80" r="1.0" fill="#4a2810"/>
<circle cx="366.23" cy="99.80" r="1.0" fill="#4a2810"/>
<circle cx="368.48" cy="99.80" r="1.0" fill="#4a2810"/>
<circle cx="370.73" cy="99.80" r="1.0" fill="#4a2810"/>
<circle cx="372.98" cy="99.80" r="1.0" fill="#4a2810"/>
<circle cx="375.23" cy="99.80" r="1.0" fill="#4a2810"/>
<circle cx="377.48" cy="99.80" r="1.0" fill="#4a2810"/>
<circle cx="358.35" cy="104.30" r="1.0" fill="#4a2810"/>
<circle cx="360.60" cy="104.30" r="1.0" fill="#4a2810"/>
<circle cx="362.85" cy="104.30" r="1.0" fill="#4a2810"/>
<circle cx="365.10" cy="104.30" r="1.0" fill="#4a2810"/>
<circle cx="367.35" cy="104.30" r="1.0" fill="#4a2810"/>
<circle cx="369.60" cy="104.30" r="1.0" fill="#4a2810"/>
<circle cx="371.85" cy="104.30" r="1.0" fill="#4a2810"/>
<circle cx="374.10" cy="104.30" r="1.0" fill="#4a2810"/>
<circle cx="376.35" cy="104.30" r="1.0" fill="#4a2810"/>
<circle cx="378.60" cy="104.30" r="1.0" fill="#4a2810"/>
<circle cx="380.85" cy="104.30" r="1.0" fill="#4a2810"/>
<circle cx="360.60" cy="107.80" r="1.0" fill="#4a2810"/>
<circle cx="362.85" cy="107.80" r="1.0" fill="#4a2810"/>
<circle cx="365.10" cy="107.80" r="1.0" fill="#4a2810"/>
<circle cx="367.35" cy="107.80" r="1.0" fill="#4a2810"/>
<circle cx="369.60" cy="107.80" r="1.0" fill="#4a2810"/>
<circle cx="371.85" cy="107.80" r="1.0" fill="#4a2810"/>
<circle cx="374.10" cy="107.80" r="1.0" fill="#4a2810"/>
<circle cx="376.35" cy="107.80" r="1.0" fill="#4a2810"/>
<circle cx="378.60" cy="107.80" r="1.0" fill="#4a2810"/>
<circle cx="356.10" cy="111.60" r="1.0" fill="#4a2810"/>
<circle cx="358.35" cy="111.60" r="1.0" fill="#4a2810"/>
<circle cx="360.60" cy="111.60" r="1.0" fill="#4a2810"/>
<circle cx="362.85" cy="111.60" r="1.0" fill="#4a2810"/>
<circle cx="365.10" cy="111.60" r="1.0" fill="#4a2810"/>
<circle cx="367.35" cy="111.60" r="1.0" fill="#4a2810"/>
<circle cx="369.60" cy="111.60" r="1.0" fill="#4a2810"/>
<circle cx="371.85" cy="111.60" r="1.0" fill="#4a2810"/>
<circle cx="374.10" cy="111.60" r="1.0" fill="#4a2810"/>
<circle cx="376.35" cy="111.60" r="1.0" fill="#4a2810"/>
<circle cx="378.60" cy="111.60" r="1.0" fill="#4a2810"/>
<circle cx="380.85" cy="111.60" r="1.0" fill="#4a2810"/>
<circle cx="383.10" cy="111.60" r="1.0" fill="#4a2810"/>
<circle cx="364.40" cy="116.80" r="1.0" fill="#4a2810"/>
<circle cx="367.00" cy="116.80" r="1.0" fill="#4a2810"/>
<circle cx="369.60" cy="116.80" r="1.0" fill="#4a2810"/>
<circle cx="372.20" cy="116.80" r="1.0" fill="#4a2810"/>
<circle cx="374.80" cy="116.80" r="1.0" fill="#4a2810"/>
<circle cx="360.60" cy="120.50" r="1.0" fill="#4a2810"/>
<circle cx="362.85" cy="120.50" r="1.0" fill="#4a2810"/>
<circle cx="365.10" cy="120.50" r="1.0" fill="#4a2810"/>
<circle cx="367.35" cy="120.50" r="1.0" fill="#4a2810"/>
<circle cx="369.60" cy="120.50" r="1.0" fill="#4a2810"/>
<circle cx="371.85" cy="120.50" r="1.0" fill="#4a2810"/>
<circle cx="374.10" cy="120.50" r="1.0" fill="#4a2810"/>
<circle cx="376.35" cy="120.50" r="1.0" fill="#4a2810"/>
<circle cx="378.60" cy="120.50" r="1.0" fill="#4a2810"/>
<circle cx="368.90" cy="126.00" r="1.0" fill="#4a2810"/>
<circle cx="370.30" cy="126.00" r="1.0" fill="#4a2810"/>
<circle cx="366.90" cy="130.80" r="1.0" fill="#4a2810"/>
<circle cx="369.60" cy="130.80" r="1.0" fill="#4a2810"/>
<circle cx="372.30" cy="130.80" r="1.0" fill="#4a2810"/>
<circle cx="368.90" cy="137.10" r="1.0" fill="#4a2810"/>
<circle cx="370.30" cy="137.10" r="1.0" fill="#4a2810"/>
<circle cx="366.90" cy="143.80" r="1.0" fill="#4a2810"/>
<circle cx="369.60" cy="143.80" r="1.0" fill="#4a2810"/>
<circle cx="372.30" cy="143.80" r="1.0" fill="#4a2810"/>
<circle cx="368.30" cy="149.60" r="1.0" fill="#4a2810"/>
<circle cx="370.90" cy="149.60" r="1.0" fill="#4a2810"/>
<line x1="349.00" y1="98.30" x2="390.20" y2="98.30" stroke="#2a1405" stroke-width="1.5" />
<line x1="369.60" y1="157.30" x2="369.60" y2="160.30" stroke="#1a1a1a" stroke-width="0.9" />
<text x="369.60" y="170.30" font-size="7.0" text-anchor="middle" font-weight="normal" fill="#2a2a2a" stroke="#2a2a2a" stroke-width="0.15" >LBCL</text>
<text x="369.60" y="178.70" font-size="7.0" text-anchor="middle" font-weight="normal" fill="#2a2a2a" stroke="#2a2a2a" stroke-width="0.15" >n = 124</text>
<rect x="404.20" y="92.40" width="40.60" height="15.90" fill="#fcdd86"/>
<line x1="424.50" y1="70.30" x2="424.50" y2="92.40" stroke="#3a2a10" stroke-width="1.0" />
<line x1="424.50" y1="108.30" x2="424.50" y2="115.60" stroke="#3a2a10" stroke-width="1.0" />
<circle cx="424.50" cy="53.50" r="1.0" fill="#6a5020"/>
<circle cx="424.50" cy="70.20" r="1.0" fill="#6a5020"/>
<circle cx="423.40" cy="84.30" r="1.0" fill="#6a5020"/>
<circle cx="425.60" cy="84.30" r="1.0" fill="#6a5020"/>
<circle cx="424.50" cy="90.90" r="1.0" fill="#6a5020"/>
<circle cx="421.40" cy="94.80" r="1.0" fill="#6a5020"/>
<circle cx="424.50" cy="94.80" r="1.0" fill="#6a5020"/>
<circle cx="427.60" cy="94.80" r="1.0" fill="#6a5020"/>
<circle cx="424.50" cy="100.60" r="1.0" fill="#6a5020"/>
<circle cx="421.40" cy="104.60" r="1.0" fill="#6a5020"/>
<circle cx="424.50" cy="104.60" r="1.0" fill="#6a5020"/>
<circle cx="427.60" cy="104.60" r="1.0" fill="#6a5020"/>
<circle cx="421.40" cy="107.80" r="1.0" fill="#6a5020"/>
<circle cx="424.50" cy="107.80" r="1.0" fill="#6a5020"/>
<circle cx="427.60" cy="107.80" r="1.0" fill="#6a5020"/>
<circle cx="421.40" cy="115.40" r="1.0" fill="#6a5020"/>
<circle cx="424.50" cy="115.40" r="1.0" fill="#6a5020"/>
<circle cx="427.60" cy="115.40" r="1.0" fill="#6a5020"/>
<circle cx="424.50" cy="149.50" r="1.0" fill="#6a5020"/>
<line x1="404.20" y1="103.10" x2="444.80" y2="103.10" stroke="#2a1a05" stroke-width="1.5" />
<line x1="424.50" y1="157.30" x2="424.50" y2="160.30" stroke="#1a1a1a" stroke-width="0.9" />
<text x="424.50" y="170.30" font-size="7.0" text-anchor="middle" font-weight="normal" fill="#2a2a2a" stroke="#2a2a2a" stroke-width="0.15" >FL</text>
<text x="424.50" y="178.70" font-size="7.0" text-anchor="middle" font-weight="normal" fill="#2a2a2a" stroke="#2a2a2a" stroke-width="0.15" >n = 19</text>
<rect x="459.10" y="76.10" width="40.80" height="20.30" fill="#c7c4e3"/>
<line x1="479.50" y1="50.40" x2="479.50" y2="76.10" stroke="#4a4a58" stroke-width="1.0" />
<line x1="479.50" y1="96.40" x2="479.50" y2="112.30" stroke="#4a4a58" stroke-width="1.0" />
<circle cx="479.50" cy="50.40" r="1.0" fill="#2a2a40"/>
<circle cx="479.50" cy="60.90" r="1.0" fill="#2a2a40"/>
<circle cx="476.40" cy="74.80" r="1.0" fill="#2a2a40"/>
<circle cx="479.50" cy="74.80" r="1.0" fill="#2a2a40"/>
<circle cx="482.60" cy="74.80" r="1.0" fill="#2a2a40"/>
<circle cx="474.90" cy="82.30" r="1.0" fill="#2a2a40"/>
<circle cx="477.20" cy="82.30" r="1.0" fill="#2a2a40"/>
<circle cx="479.50" cy="82.30" r="1.0" fill="#2a2a40"/>
<circle cx="481.80" cy="82.30" r="1.0" fill="#2a2a40"/>
<circle cx="484.10" cy="82.30" r="1.0" fill="#2a2a40"/>
<circle cx="479.50" cy="90.80" r="1.0" fill="#2a2a40"/>
<circle cx="476.40" cy="96.30" r="1.0" fill="#2a2a40"/>
<circle cx="479.50" cy="96.30" r="1.0" fill="#2a2a40"/>
<circle cx="482.60" cy="96.30" r="1.0" fill="#2a2a40"/>
<circle cx="478.70" cy="100.20" r="1.0" fill="#2a2a40"/>
<circle cx="480.30" cy="100.20" r="1.0" fill="#2a2a40"/>
<circle cx="479.50" cy="112.30" r="1.0" fill="#2a2a40"/>
<line x1="459.10" y1="82.30" x2="499.90" y2="82.30" stroke="#1a1a40" stroke-width="1.5" />
<line x1="479.50" y1="157.30" x2="479.50" y2="160.30" stroke="#1a1a1a" stroke-width="0.9" />
<text x="479.50" y="170.30" font-size="7.0" text-anchor="middle" font-weight="normal" fill="#2a2a2a" stroke="#2a2a2a" stroke-width="0.15" >MCL</text>
<text x="479.50" y="178.70" font-size="7.0" text-anchor="middle" font-weight="normal" fill="#2a2a2a" stroke="#2a2a2a" stroke-width="0.15" >n = 17</text>
<polyline points="369.60,34.40 369.60,31.60 424.60,31.60 424.60,34.40" fill="none" stroke="#484848" stroke-width="0.85"/>
<text x="397.10" y="29.70" font-size="6.3" text-anchor="middle" font-weight="normal" fill="#333" >ns</text>
<polyline points="369.60,46.30 369.60,43.10 479.60,43.10 479.60,46.30" fill="none" stroke="#484848" stroke-width="0.85"/>
<text x="424.60" y="41.00" font-size="6.8" text-anchor="middle" font-weight="normal" fill="#222" >**</text>
<text x="292.20" y="201.30" font-size="13" text-anchor="start" font-weight="bold" fill="#111" >D</text>
<line x1="336.60" y1="211.50" x2="336.60" y2="341.10" stroke="#1a1a1a" stroke-width="1.2" />
<line x1="336.00" y1="340.50" x2="512.80" y2="340.50" stroke="#1a1a1a" stroke-width="1.2" />
<line x1="333.40" y1="334.40" x2="336.60" y2="334.40" stroke="#1a1a1a" stroke-width="0.9" />
<text x="326.80" y="336.80" font-size="6.5" text-anchor="end" font-weight="normal" fill="#2a2a2a" stroke="#2a2a2a" stroke-width="0.15" >10</text>
<text x="327.60" y="333.80" font-size="3.8" text-anchor="start" font-weight="normal" fill="#2a2a2a" >0</text>
<line x1="335.00" y1="327.18" x2="336.60" y2="327.18" stroke="#1a1a1a" stroke-width="0.7" />
<line x1="335.00" y1="322.95" x2="336.60" y2="322.95" stroke="#1a1a1a" stroke-width="0.7" />
<line x1="335.00" y1="319.95" x2="336.60" y2="319.95" stroke="#1a1a1a" stroke-width="0.7" />
<line x1="335.00" y1="317.62" x2="336.60" y2="317.62" stroke="#1a1a1a" stroke-width="0.7" />
<line x1="335.00" y1="315.72" x2="336.60" y2="315.72" stroke="#1a1a1a" stroke-width="0.7" />
<line x1="335.00" y1="314.12" x2="336.60" y2="314.12" stroke="#1a1a1a" stroke-width="0.7" />
<line x1="335.00" y1="312.73" x2="336.60" y2="312.73" stroke="#1a1a1a" stroke-width="0.7" />
<line x1="335.00" y1="311.50" x2="336.60" y2="311.50" stroke="#1a1a1a" stroke-width="0.7" />
<line x1="333.40" y1="310.40" x2="336.60" y2="310.40" stroke="#1a1a1a" stroke-width="0.9" />
<text x="326.80" y="312.80" font-size="6.5" text-anchor="end" font-weight="normal" fill="#2a2a2a" stroke="#2a2a2a" stroke-width="0.15" >10</text>
<text x="327.60" y="309.80" font-size="3.8" text-anchor="start" font-weight="normal" fill="#2a2a2a" >1</text>
<line x1="335.00" y1="303.18" x2="336.60" y2="303.18" stroke="#1a1a1a" stroke-width="0.7" />
<line x1="335.00" y1="298.95" x2="336.60" y2="298.95" stroke="#1a1a1a" stroke-width="0.7" />
<line x1="335.00" y1="295.95" x2="336.60" y2="295.95" stroke="#1a1a1a" stroke-width="0.7" />
<line x1="335.00" y1="293.62" x2="336.60" y2="293.62" stroke="#1a1a1a" stroke-width="0.7" />
<line x1="335.00" y1="291.72" x2="336.60" y2="291.72" stroke="#1a1a1a" stroke-width="0.7" />
<line x1="335.00" y1="290.12" x2="336.60" y2="290.12" stroke="#1a1a1a" stroke-width="0.7" />
<line x1="335.00" y1="288.73" x2="336.60" y2="288.73" stroke="#1a1a1a" stroke-width="0.7" />
<line x1="335.00" y1="287.50" x2="336.60" y2="287.50" stroke="#1a1a1a" stroke-width="0.7" />
<line x1="333.40" y1="286.40" x2="336.60" y2="286.40" stroke="#1a1a1a" stroke-width="0.9" />
<text x="326.80" y="288.80" font-size="6.5" text-anchor="end" font-weight="normal" fill="#2a2a2a" stroke="#2a2a2a" stroke-width="0.15" >10</text>
<text x="327.60" y="285.80" font-size="3.8" text-anchor="start" font-weight="normal" fill="#2a2a2a" >2</text>
<line x1="335.00" y1="279.18" x2="336.60" y2="279.18" stroke="#1a1a1a" stroke-width="0.7" />
<line x1="335.00" y1="274.95" x2="336.60" y2="274.95" stroke="#1a1a1a" stroke-width="0.7" />
<line x1="335.00" y1="271.95" x2="336.60" y2="271.95" stroke="#1a1a1a" stroke-width="0.7" />
<line x1="335.00" y1="269.62" x2="336.60" y2="269.62" stroke="#1a1a1a" stroke-width="0.7" />
<line x1="335.00" y1="267.72" x2="336.60" y2="267.72" stroke="#1a1a1a" stroke-width="0.7" />
<line x1="335.00" y1="266.12" x2="336.60" y2="266.12" stroke="#1a1a1a" stroke-width="0.7" />
<line x1="335.00" y1="264.73" x2="336.60" y2="264.73" stroke="#1a1a1a" stroke-width="0.7" />
<line x1="335.00" y1="263.50" x2="336.60" y2="263.50" stroke="#1a1a1a" stroke-width="0.7" />
<line x1="333.40" y1="262.40" x2="336.60" y2="262.40" stroke="#1a1a1a" stroke-width="0.9" />
<text x="326.80" y="264.80" font-size="6.5" text-anchor="end" font-weight="normal" fill="#2a2a2a" stroke="#2a2a2a" stroke-width="0.15" >10</text>
<text x="327.60" y="261.80" font-size="3.8" text-anchor="start" font-weight="normal" fill="#2a2a2a" >3</text>
<line x1="335.00" y1="255.18" x2="336.60" y2="255.18" stroke="#1a1a1a" stroke-width="0.7" />
<line x1="335.00" y1="250.95" x2="336.60" y2="250.95" stroke="#1a1a1a" stroke-width="0.7" />
<line x1="335.00" y1="247.95" x2="336.60" y2="247.95" stroke="#1a1a1a" stroke-width="0.7" />
<line x1="335.00" y1="245.62" x2="336.60" y2="245.62" stroke="#1a1a1a" stroke-width="0.7" />
<line x1="335.00" y1="243.72" x2="336.60" y2="243.72" stroke="#1a1a1a" stroke-width="0.7" />
<line x1="335.00" y1="242.12" x2="336.60" y2="242.12" stroke="#1a1a1a" stroke-width="0.7" />
<line x1="335.00" y1="240.73" x2="336.60" y2="240.73" stroke="#1a1a1a" stroke-width="0.7" />
<line x1="335.00" y1="239.50" x2="336.60" y2="239.50" stroke="#1a1a1a" stroke-width="0.7" />
<line x1="333.40" y1="238.40" x2="336.60" y2="238.40" stroke="#1a1a1a" stroke-width="0.9" />
<text x="326.80" y="240.80" font-size="6.5" text-anchor="end" font-weight="normal" fill="#2a2a2a" stroke="#2a2a2a" stroke-width="0.15" >10</text>
<text x="327.60" y="237.80" font-size="3.8" text-anchor="start" font-weight="normal" fill="#2a2a2a" >4</text>
<line x1="335.00" y1="231.18" x2="336.60" y2="231.18" stroke="#1a1a1a" stroke-width="0.7" />
<line x1="335.00" y1="226.95" x2="336.60" y2="226.95" stroke="#1a1a1a" stroke-width="0.7" />
<line x1="335.00" y1="223.95" x2="336.60" y2="223.95" stroke="#1a1a1a" stroke-width="0.7" />
<line x1="335.00" y1="221.62" x2="336.60" y2="221.62" stroke="#1a1a1a" stroke-width="0.7" />
<line x1="335.00" y1="219.72" x2="336.60" y2="219.72" stroke="#1a1a1a" stroke-width="0.7" />
<line x1="335.00" y1="218.12" x2="336.60" y2="218.12" stroke="#1a1a1a" stroke-width="0.7" />
<line x1="335.00" y1="216.73" x2="336.60" y2="216.73" stroke="#1a1a1a" stroke-width="0.7" />
<line x1="335.00" y1="215.50" x2="336.60" y2="215.50" stroke="#1a1a1a" stroke-width="0.7" />
<line x1="333.40" y1="214.40" x2="336.60" y2="214.40" stroke="#1a1a1a" stroke-width="0.9" />
<text x="326.80" y="216.80" font-size="6.5" text-anchor="end" font-weight="normal" fill="#2a2a2a" stroke="#2a2a2a" stroke-width="0.15" >10</text>
<text x="327.60" y="213.80" font-size="3.8" text-anchor="start" font-weight="normal" fill="#2a2a2a" >5</text>
<text x="0" y="0" font-size="8.8" font-weight="normal" fill="#2a2a2a" stroke="#2a2a2a" stroke-width="0.3" text-anchor="middle" textLength="70.5" lengthAdjust="spacingAndGlyphs" transform="translate(313.4 276.00) rotate(-90)">CAR AUC (day x cells/µl)</text>
<rect x="348.80" y="266.00" width="41.20" height="27.70" fill="#8caa97"/>
<line x1="369.40" y1="236.20" x2="369.40" y2="266.00" stroke="#0a2015" stroke-width="1.0" />
<line x1="369.40" y1="293.70" x2="369.40" y2="329.00" stroke="#0a2015" stroke-width="1.0" />
<circle cx="368.70" cy="236.20" r="1.0" fill="#0a2a1a"/>
<circle cx="370.10" cy="236.20" r="1.0" fill="#0a2a1a"/>
<circle cx="366.30" cy="247.20" r="1.0" fill="#0a2a1a"/>
<circle cx="369.40" cy="247.20" r="1.0" fill="#0a2a1a"/>
<circle cx="372.50" cy="247.20" r="1.0" fill="#0a2a1a"/>
<circle cx="363.20" cy="254.70" r="1.0" fill="#0a2a1a"/>
<circle cx="366.30" cy="254.70" r="1.0" fill="#0a2a1a"/>
<circle cx="369.40" cy="254.70" r="1.0" fill="#0a2a1a"/>
<circle cx="372.50" cy="254.70" r="1.0" fill="#0a2a1a"/>
<circle cx="375.60" cy="254.70" r="1.0" fill="#0a2a1a"/>
<circle cx="363.20" cy="260.90" r="1.0" fill="#0a2a1a"/>
<circle cx="366.30" cy="260.90" r="1.0" fill="#0a2a1a"/>
<circle cx="369.40" cy="260.90" r="1.0" fill="#0a2a1a"/>
<circle cx="372.50" cy="260.90" r="1.0" fill="#0a2a1a"/>
<circle cx="375.60" cy="260.90" r="1.0" fill="#0a2a1a"/>
<circle cx="358.55" cy="265.50" r="1.0" fill="#0a2a1a"/>
<circle cx="361.65" cy="265.50" r="1.0" fill="#0a2a1a"/>
<circle cx="364.75" cy="265.50" r="1.0" fill="#0a2a1a"/>
<circle cx="367.85" cy="265.50" r="1.0" fill="#0a2a1a"/>
<circle cx="370.95" cy="265.50" r="1.0" fill="#0a2a1a"/>
<circle cx="374.05" cy="265.50" r="1.0" fill="#0a2a1a"/>
<circle cx="377.15" cy="265.50" r="1.0" fill="#0a2a1a"/>
<circle cx="380.25" cy="265.50" r="1.0" fill="#0a2a1a"/>
<circle cx="358.55" cy="271.00" r="1.0" fill="#0a2a1a"/>
<circle cx="361.65" cy="271.00" r="1.0" fill="#0a2a1a"/>
<circle cx="364.75" cy="271.00" r="1.0" fill="#0a2a1a"/>
<circle cx="367.85" cy="271.00" r="1.0" fill="#0a2a1a"/>
<circle cx="370.95" cy="271.00" r="1.0" fill="#0a2a1a"/>
<circle cx="374.05" cy="271.00" r="1.0" fill="#0a2a1a"/>
<circle cx="377.15" cy="271.00" r="1.0" fill="#0a2a1a"/>
<circle cx="380.25" cy="271.00" r="1.0" fill="#0a2a1a"/>
<circle cx="360.10" cy="276.30" r="1.0" fill="#0a2a1a"/>
<circle cx="363.20" cy="276.30" r="1.0" fill="#0a2a1a"/>
<circle cx="366.30" cy="276.30" r="1.0" fill="#0a2a1a"/>
<circle cx="369.40" cy="276.30" r="1.0" fill="#0a2a1a"/>
<circle cx="372.50" cy="276.30" r="1.0" fill="#0a2a1a"/>
<circle cx="375.60" cy="276.30" r="1.0" fill="#0a2a1a"/>
<circle cx="378.70" cy="276.30" r="1.0" fill="#0a2a1a"/>
<circle cx="363.20" cy="282.10" r="1.0" fill="#0a2a1a"/>
<circle cx="366.30" cy="282.10" r="1.0" fill="#0a2a1a"/>
<circle cx="369.40" cy="282.10" r="1.0" fill="#0a2a1a"/>
<circle cx="372.50" cy="282.10" r="1.0" fill="#0a2a1a"/>
<circle cx="375.60" cy="282.10" r="1.0" fill="#0a2a1a"/>
<circle cx="360.10" cy="286.60" r="1.0" fill="#0a2a1a"/>
<circle cx="363.20" cy="286.60" r="1.0" fill="#0a2a1a"/>
<circle cx="366.30" cy="286.60" r="1.0" fill="#0a2a1a"/>
<circle cx="369.40" cy="286.60" r="1.0" fill="#0a2a1a"/>
<circle cx="372.50" cy="286.60" r="1.0" fill="#0a2a1a"/>
<circle cx="375.60" cy="286.60" r="1.0" fill="#0a2a1a"/>
<circle cx="378.70" cy="286.60" r="1.0" fill="#0a2a1a"/>
<circle cx="366.30" cy="292.10" r="1.0" fill="#0a2a1a"/>
<circle cx="369.40" cy="292.10" r="1.0" fill="#0a2a1a"/>
<circle cx="372.50" cy="292.10" r="1.0" fill="#0a2a1a"/>
<circle cx="364.75" cy="297.00" r="1.0" fill="#0a2a1a"/>
<circle cx="367.85" cy="297.00" r="1.0" fill="#0a2a1a"/>
<circle cx="370.95" cy="297.00" r="1.0" fill="#0a2a1a"/>
<circle cx="374.05" cy="297.00" r="1.0" fill="#0a2a1a"/>
<circle cx="361.65" cy="301.80" r="1.0" fill="#0a2a1a"/>
<circle cx="364.75" cy="301.80" r="1.0" fill="#0a2a1a"/>
<circle cx="367.85" cy="301.80" r="1.0" fill="#0a2a1a"/>
<circle cx="370.95" cy="301.80" r="1.0" fill="#0a2a1a"/>
<circle cx="374.05" cy="301.80" r="1.0" fill="#0a2a1a"/>
<circle cx="377.15" cy="301.80" r="1.0" fill="#0a2a1a"/>
<circle cx="368.70" cy="307.60" r="1.0" fill="#0a2a1a"/>
<circle cx="370.10" cy="307.60" r="1.0" fill="#0a2a1a"/>
<circle cx="368.70" cy="312.20" r="1.0" fill="#0a2a1a"/>
<circle cx="370.10" cy="312.20" r="1.0" fill="#0a2a1a"/>
<circle cx="369.40" cy="318.70" r="1.0" fill="#0a2a1a"/>
<circle cx="369.40" cy="324.90" r="1.0" fill="#0a2a1a"/>
<circle cx="368.70" cy="329.20" r="1.0" fill="#0a2a1a"/>
<circle cx="370.10" cy="329.20" r="1.0" fill="#0a2a1a"/>
<line x1="348.80" y1="277.00" x2="390.00" y2="277.00" stroke="#0a1a10" stroke-width="1.5" />
<line x1="369.40" y1="340.50" x2="369.40" y2="343.50" stroke="#1a1a1a" stroke-width="0.9" />
<text x="369.40" y="353.50" font-size="7.0" text-anchor="middle" font-weight="normal" fill="#2a2a2a" stroke="#2a2a2a" stroke-width="0.15" >DLBCL</text>
<text x="369.40" y="361.90" font-size="7.0" text-anchor="middle" font-weight="normal" fill="#2a2a2a" stroke="#2a2a2a" stroke-width="0.15" >n = 72</text>
<rect x="403.90" y="278.50" width="40.80" height="15.80" fill="#fcdc88"/>
<line x1="424.30" y1="271.70" x2="424.30" y2="278.50" stroke="#3a2a10" stroke-width="1.0" />
<line x1="424.30" y1="294.30" x2="424.30" y2="310.40" stroke="#3a2a10" stroke-width="1.0" />
<circle cx="424.30" cy="252.90" r="1.0" fill="#6a5020"/>
<circle cx="421.40" cy="271.70" r="1.0" fill="#6a5020"/>
<circle cx="424.30" cy="271.70" r="1.0" fill="#6a5020"/>
<circle cx="427.20" cy="271.70" r="1.0" fill="#6a5020"/>
<circle cx="422.85" cy="278.00" r="1.0" fill="#6a5020"/>
<circle cx="425.75" cy="278.00" r="1.0" fill="#6a5020"/>
<circle cx="424.30" cy="283.80" r="1.0" fill="#6a5020"/>
<circle cx="419.95" cy="288.20" r="1.0" fill="#6a5020"/>
<circle cx="422.85" cy="288.20" r="1.0" fill="#6a5020"/>
<circle cx="425.75" cy="288.20" r="1.0" fill="#6a5020"/>
<circle cx="428.65" cy="288.20" r="1.0" fill="#6a5020"/>
<circle cx="415.60" cy="293.50" r="1.0" fill="#6a5020"/>
<circle cx="418.50" cy="293.50" r="1.0" fill="#6a5020"/>
<circle cx="421.40" cy="293.50" r="1.0" fill="#6a5020"/>
<circle cx="424.30" cy="293.50" r="1.0" fill="#6a5020"/>
<circle cx="427.20" cy="293.50" r="1.0" fill="#6a5020"/>
<circle cx="430.10" cy="293.50" r="1.0" fill="#6a5020"/>
<circle cx="433.00" cy="293.50" r="1.0" fill="#6a5020"/>
<circle cx="423.60" cy="300.20" r="1.0" fill="#6a5020"/>
<circle cx="425.00" cy="300.20" r="1.0" fill="#6a5020"/>
<circle cx="424.30" cy="310.40" r="1.0" fill="#6a5020"/>
<circle cx="422.85" cy="322.70" r="1.0" fill="#6a5020"/>
<circle cx="425.75" cy="322.70" r="1.0" fill="#6a5020"/>
<line x1="403.90" y1="289.60" x2="444.70" y2="289.60" stroke="#2a1a05" stroke-width="1.5" />
<line x1="424.30" y1="340.50" x2="424.30" y2="343.50" stroke="#1a1a1a" stroke-width="0.9" />
<text x="424.30" y="353.50" font-size="7.0" text-anchor="middle" font-weight="normal" fill="#2a2a2a" stroke="#2a2a2a" stroke-width="0.15" >HGBCL</text>
<text x="424.30" y="361.90" font-size="7.0" text-anchor="middle" font-weight="normal" fill="#2a2a2a" stroke="#2a2a2a" stroke-width="0.15" >n = 24</text>
<rect x="458.90" y="280.20" width="40.40" height="12.00" fill="#ab8e70"/>
<line x1="479.10" y1="268.70" x2="479.10" y2="280.20" stroke="#1a0a00" stroke-width="1.0" />
<line x1="479.10" y1="292.20" x2="479.10" y2="299.80" stroke="#1a0a00" stroke-width="1.0" />
<circle cx="477.60" cy="255.40" r="1.0" fill="#1a0a00"/>
<circle cx="480.60" cy="255.40" r="1.0" fill="#1a0a00"/>
<circle cx="479.10" cy="261.50" r="1.0" fill="#1a0a00"/>
<circle cx="479.10" cy="268.70" r="1.0" fill="#1a0a00"/>
<circle cx="473.70" cy="280.20" r="1.0" fill="#1a0a00"/>
<circle cx="476.40" cy="280.20" r="1.0" fill="#1a0a00"/>
<circle cx="479.10" cy="280.20" r="1.0" fill="#1a0a00"/>
<circle cx="481.80" cy="280.20" r="1.0" fill="#1a0a00"/>
<circle cx="484.50" cy="280.20" r="1.0" fill="#1a0a00"/>
<circle cx="473.70" cy="287.50" r="1.0" fill="#1a0a00"/>
<circle cx="476.40" cy="287.50" r="1.0" fill="#1a0a00"/>
<circle cx="479.10" cy="287.50" r="1.0" fill="#1a0a00"/>
<circle cx="481.80" cy="287.50" r="1.0" fill="#1a0a00"/>
<circle cx="484.50" cy="287.50" r="1.0" fill="#1a0a00"/>
<circle cx="471.00" cy="292.00" r="1.0" fill="#1a0a00"/>
<circle cx="473.70" cy="292.00" r="1.0" fill="#1a0a00"/>
<circle cx="476.40" cy="292.00" r="1.0" fill="#1a0a00"/>
<circle cx="479.10" cy="292.00" r="1.0" fill="#1a0a00"/>
<circle cx="481.80" cy="292.00" r="1.0" fill="#1a0a00"/>
<circle cx="484.50" cy="292.00" r="1.0" fill="#1a0a00"/>
<circle cx="487.20" cy="292.00" r="1.0" fill="#1a0a00"/>
<circle cx="476.40" cy="299.80" r="1.0" fill="#1a0a00"/>
<circle cx="479.10" cy="299.80" r="1.0" fill="#1a0a00"/>
<circle cx="481.80" cy="299.80" r="1.0" fill="#1a0a00"/>
<circle cx="479.10" cy="322.30" r="1.0" fill="#1a0a00"/>
<line x1="458.90" y1="288.80" x2="499.30" y2="288.80" stroke="#1a0a00" stroke-width="1.5" />
<line x1="479.10" y1="340.50" x2="479.10" y2="343.50" stroke="#1a1a1a" stroke-width="0.9" />
<text x="479.10" y="353.50" font-size="7.0" text-anchor="middle" font-weight="normal" fill="#2a2a2a" stroke="#2a2a2a" stroke-width="0.15" >TFL</text>
<text x="479.10" y="361.90" font-size="7.0" text-anchor="middle" font-weight="normal" fill="#2a2a2a" stroke="#2a2a2a" stroke-width="0.15" >n = 21</text>
<polyline points="369.40,222.80 369.40,220.00 424.40,220.00 424.40,222.80" fill="none" stroke="#484848" stroke-width="0.85"/>
<text x="396.90" y="217.70" font-size="6.8" text-anchor="middle" font-weight="normal" fill="#222" >*</text>
<polyline points="369.40,233.70 369.40,230.90 479.20,230.90 479.20,233.70" fill="none" stroke="#484848" stroke-width="0.85"/>
<text x="424.80" y="229.20" font-size="6.3" text-anchor="middle" font-weight="normal" fill="#333" >ns</text>
<text x="292.20" y="384.80" font-size="13" text-anchor="start" font-weight="bold" fill="#111" >F</text>
<line x1="336.60" y1="389.00" x2="336.60" y2="524.10" stroke="#1a1a1a" stroke-width="1.2" />
<line x1="336.00" y1="523.50" x2="512.80" y2="523.50" stroke="#1a1a1a" stroke-width="1.2" />
<line x1="333.40" y1="522.75" x2="336.60" y2="522.75" stroke="#1a1a1a" stroke-width="0.9" />
<text x="326.80" y="525.15" font-size="6.5" text-anchor="end" font-weight="normal" fill="#2a2a2a" stroke="#2a2a2a" stroke-width="0.15" >10</text>
<text x="327.60" y="522.15" font-size="3.8" text-anchor="start" font-weight="normal" fill="#2a2a2a" >0</text>
<line x1="335.00" y1="514.01" x2="336.60" y2="514.01" stroke="#1a1a1a" stroke-width="0.7" />
<line x1="335.00" y1="508.89" x2="336.60" y2="508.89" stroke="#1a1a1a" stroke-width="0.7" />
<line x1="335.00" y1="505.26" x2="336.60" y2="505.26" stroke="#1a1a1a" stroke-width="0.7" />
<line x1="335.00" y1="502.44" x2="336.60" y2="502.44" stroke="#1a1a1a" stroke-width="0.7" />
<line x1="335.00" y1="500.14" x2="336.60" y2="500.14" stroke="#1a1a1a" stroke-width="0.7" />
<line x1="335.00" y1="498.20" x2="336.60" y2="498.20" stroke="#1a1a1a" stroke-width="0.7" />
<line x1="335.00" y1="496.52" x2="336.60" y2="496.52" stroke="#1a1a1a" stroke-width="0.7" />
<line x1="335.00" y1="495.03" x2="336.60" y2="495.03" stroke="#1a1a1a" stroke-width="0.7" />
<line x1="333.40" y1="493.70" x2="336.60" y2="493.70" stroke="#1a1a1a" stroke-width="0.9" />
<text x="326.80" y="496.10" font-size="6.5" text-anchor="end" font-weight="normal" fill="#2a2a2a" stroke="#2a2a2a" stroke-width="0.15" >10</text>
<text x="327.60" y="493.10" font-size="3.8" text-anchor="start" font-weight="normal" fill="#2a2a2a" >1</text>
<line x1="335.00" y1="484.96" x2="336.60" y2="484.96" stroke="#1a1a1a" stroke-width="0.7" />
<line x1="335.00" y1="479.84" x2="336.60" y2="479.84" stroke="#1a1a1a" stroke-width="0.7" />
<line x1="335.00" y1="476.21" x2="336.60" y2="476.21" stroke="#1a1a1a" stroke-width="0.7" />
<line x1="335.00" y1="473.39" x2="336.60" y2="473.39" stroke="#1a1a1a" stroke-width="0.7" />
<line x1="335.00" y1="471.09" x2="336.60" y2="471.09" stroke="#1a1a1a" stroke-width="0.7" />
<line x1="335.00" y1="469.15" x2="336.60" y2="469.15" stroke="#1a1a1a" stroke-width="0.7" />
<line x1="335.00" y1="467.47" x2="336.60" y2="467.47" stroke="#1a1a1a" stroke-width="0.7" />
<line x1="335.00" y1="465.98" x2="336.60" y2="465.98" stroke="#1a1a1a" stroke-width="0.7" />
<line x1="333.40" y1="464.65" x2="336.60" y2="464.65" stroke="#1a1a1a" stroke-width="0.9" />
<text x="326.80" y="467.05" font-size="6.5" text-anchor="end" font-weight="normal" fill="#2a2a2a" stroke="#2a2a2a" stroke-width="0.15" >10</text>
<text x="327.60" y="464.05" font-size="3.8" text-anchor="start" font-weight="normal" fill="#2a2a2a" >2</text>
<line x1="335.00" y1="455.91" x2="336.60" y2="455.91" stroke="#1a1a1a" stroke-width="0.7" />
<line x1="335.00" y1="450.79" x2="336.60" y2="450.79" stroke="#1a1a1a" stroke-width="0.7" />
<line x1="335.00" y1="447.16" x2="336.60" y2="447.16" stroke="#1a1a1a" stroke-width="0.7" />
<line x1="335.00" y1="444.34" x2="336.60" y2="444.34" stroke="#1a1a1a" stroke-width="0.7" />
<line x1="335.00" y1="442.04" x2="336.60" y2="442.04" stroke="#1a1a1a" stroke-width="0.7" />
<line x1="335.00" y1="440.10" x2="336.60" y2="440.10" stroke="#1a1a1a" stroke-width="0.7" />
<line x1="335.00" y1="438.42" x2="336.60" y2="438.42" stroke="#1a1a1a" stroke-width="0.7" />
<line x1="335.00" y1="436.93" x2="336.60" y2="436.93" stroke="#1a1a1a" stroke-width="0.7" />
<line x1="333.40" y1="435.60" x2="336.60" y2="435.60" stroke="#1a1a1a" stroke-width="0.9" />
<text x="326.80" y="438.00" font-size="6.5" text-anchor="end" font-weight="normal" fill="#2a2a2a" stroke="#2a2a2a" stroke-width="0.15" >10</text>
<text x="327.60" y="435.00" font-size="3.8" text-anchor="start" font-weight="normal" fill="#2a2a2a" >3</text>
<line x1="335.00" y1="426.86" x2="336.60" y2="426.86" stroke="#1a1a1a" stroke-width="0.7" />
<line x1="335.00" y1="421.74" x2="336.60" y2="421.74" stroke="#1a1a1a" stroke-width="0.7" />
<line x1="335.00" y1="418.11" x2="336.60" y2="418.11" stroke="#1a1a1a" stroke-width="0.7" />
<line x1="335.00" y1="415.29" x2="336.60" y2="415.29" stroke="#1a1a1a" stroke-width="0.7" />
<line x1="335.00" y1="412.99" x2="336.60" y2="412.99" stroke="#1a1a1a" stroke-width="0.7" />
<line x1="335.00" y1="411.05" x2="336.60" y2="411.05" stroke="#1a1a1a" stroke-width="0.7" />
<line x1="335.00" y1="409.37" x2="336.60" y2="409.37" stroke="#1a1a1a" stroke-width="0.7" />
<line x1="335.00" y1="407.88" x2="336.60" y2="407.88" stroke="#1a1a1a" stroke-width="0.7" />
<line x1="333.40" y1="406.55" x2="336.60" y2="406.55" stroke="#1a1a1a" stroke-width="0.9" />
<text x="326.80" y="408.95" font-size="6.5" text-anchor="end" font-weight="normal" fill="#2a2a2a" stroke="#2a2a2a" stroke-width="0.15" >10</text>
<text x="327.60" y="405.95" font-size="3.8" text-anchor="start" font-weight="normal" fill="#2a2a2a" >4</text>
<line x1="335.00" y1="397.81" x2="336.60" y2="397.81" stroke="#1a1a1a" stroke-width="0.7" />
<line x1="335.00" y1="392.69" x2="336.60" y2="392.69" stroke="#1a1a1a" stroke-width="0.7" />
<line x1="335.00" y1="389.06" x2="336.60" y2="389.06" stroke="#1a1a1a" stroke-width="0.7" />
<text x="0" y="0" font-size="8.8" font-weight="normal" fill="#2a2a2a" stroke="#2a2a2a" stroke-width="0.3" text-anchor="middle" textLength="70.5" lengthAdjust="spacingAndGlyphs" transform="translate(313.4 456.25) rotate(-90)">CAR AUC (day x cells/µl)</text>
<rect x="354.40" y="448.20" width="60.20" height="23.60" fill="#e48d7c"/>
<line x1="384.50" y1="417.20" x2="384.50" y2="448.20" stroke="#3a0a0a" stroke-width="1.0" />
<line x1="384.50" y1="471.80" x2="384.50" y2="507.60" stroke="#3a0a0a" stroke-width="1.0" />
<circle cx="384.50" cy="408.60" r="1.0" fill="#5a0a10"/>
<circle cx="384.50" cy="417.20" r="1.0" fill="#5a0a10"/>
<circle cx="383.80" cy="423.80" r="1.0" fill="#5a0a10"/>
<circle cx="385.20" cy="423.80" r="1.0" fill="#5a0a10"/>
<circle cx="383.80" cy="427.10" r="1.0" fill="#5a0a10"/>
<circle cx="385.20" cy="427.10" r="1.0" fill="#5a0a10"/>
<circle cx="381.55" cy="431.00" r="1.0" fill="#5a0a10"/>
<circle cx="384.50" cy="431.00" r="1.0" fill="#5a0a10"/>
<circle cx="387.45" cy="431.00" r="1.0" fill="#5a0a10"/>
<circle cx="383.80" cy="437.00" r="1.0" fill="#5a0a10"/>
<circle cx="385.20" cy="437.00" r="1.0" fill="#5a0a10"/>
<circle cx="378.60" cy="442.00" r="1.0" fill="#5a0a10"/>
<circle cx="381.55" cy="442.00" r="1.0" fill="#5a0a10"/>
<circle cx="384.50" cy="442.00" r="1.0" fill="#5a0a10"/>
<circle cx="387.45" cy="442.00" r="1.0" fill="#5a0a10"/>
<circle cx="390.40" cy="442.00" r="1.0" fill="#5a0a10"/>
<circle cx="381.55" cy="448.00" r="1.0" fill="#5a0a10"/>
<circle cx="384.50" cy="448.00" r="1.0" fill="#5a0a10"/>
<circle cx="387.45" cy="448.00" r="1.0" fill="#5a0a10"/>
<circle cx="380.07" cy="451.70" r="1.0" fill="#5a0a10"/>
<circle cx="383.02" cy="451.70" r="1.0" fill="#5a0a10"/>
<circle cx="385.98" cy="451.70" r="1.0" fill="#5a0a10"/>
<circle cx="388.93" cy="451.70" r="1.0" fill="#5a0a10"/>
<circle cx="372.70" cy="455.50" r="1.0" fill="#5a0a10"/>
<circle cx="375.65" cy="455.50" r="1.0" fill="#5a0a10"/>
<circle cx="378.60" cy="455.50" r="1.0" fill="#5a0a10"/>
<circle cx="381.55" cy="455.50" r="1.0" fill="#5a0a10"/>
<circle cx="384.50" cy="455.50" r="1.0" fill="#5a0a10"/>
<circle cx="387.45" cy="455.50" r="1.0" fill="#5a0a10"/>
<circle cx="390.40" cy="455.50" r="1.0" fill="#5a0a10"/>
<circle cx="393.35" cy="455.50" r="1.0" fill="#5a0a10"/>
<circle cx="396.30" cy="455.50" r="1.0" fill="#5a0a10"/>
<circle cx="375.65" cy="459.20" r="1.0" fill="#5a0a10"/>
<circle cx="378.60" cy="459.20" r="1.0" fill="#5a0a10"/>
<circle cx="381.55" cy="459.20" r="1.0" fill="#5a0a10"/>
<circle cx="384.50" cy="459.20" r="1.0" fill="#5a0a10"/>
<circle cx="387.45" cy="459.20" r="1.0" fill="#5a0a10"/>
<circle cx="390.40" cy="459.20" r="1.0" fill="#5a0a10"/>
<circle cx="393.35" cy="459.20" r="1.0" fill="#5a0a10"/>
<circle cx="377.12" cy="463.80" r="1.0" fill="#5a0a10"/>
<circle cx="380.07" cy="463.80" r="1.0" fill="#5a0a10"/>
<circle cx="383.02" cy="463.80" r="1.0" fill="#5a0a10"/>
<circle cx="385.98" cy="463.80" r="1.0" fill="#5a0a10"/>
<circle cx="388.93" cy="463.80" r="1.0" fill="#5a0a10"/>
<circle cx="391.88" cy="463.80" r="1.0" fill="#5a0a10"/>
<circle cx="378.60" cy="467.50" r="1.0" fill="#5a0a10"/>
<circle cx="381.55" cy="467.50" r="1.0" fill="#5a0a10"/>
<circle cx="384.50" cy="467.50" r="1.0" fill="#5a0a10"/>
<circle cx="387.45" cy="467.50" r="1.0" fill="#5a0a10"/>
<circle cx="390.40" cy="467.50" r="1.0" fill="#5a0a10"/>
<circle cx="375.65" cy="472.50" r="1.0" fill="#5a0a10"/>
<circle cx="378.60" cy="472.50" r="1.0" fill="#5a0a10"/>
<circle cx="381.55" cy="472.50" r="1.0" fill="#5a0a10"/>
<circle cx="384.50" cy="472.50" r="1.0" fill="#5a0a10"/>
<circle cx="387.45" cy="472.50" r="1.0" fill="#5a0a10"/>
<circle cx="390.40" cy="472.50" r="1.0" fill="#5a0a10"/>
<circle cx="393.35" cy="472.50" r="1.0" fill="#5a0a10"/>
<circle cx="381.55" cy="477.60" r="1.0" fill="#5a0a10"/>
<circle cx="384.50" cy="477.60" r="1.0" fill="#5a0a10"/>
<circle cx="387.45" cy="477.60" r="1.0" fill="#5a0a10"/>
<circle cx="378.60" cy="483.10" r="1.0" fill="#5a0a10"/>
<circle cx="381.55" cy="483.10" r="1.0" fill="#5a0a10"/>
<circle cx="384.50" cy="483.10" r="1.0" fill="#5a0a10"/>
<circle cx="387.45" cy="483.10" r="1.0" fill="#5a0a10"/>
<circle cx="390.40" cy="483.10" r="1.0" fill="#5a0a10"/>
<circle cx="384.50" cy="488.40" r="1.0" fill="#5a0a10"/>
<circle cx="383.80" cy="491.90" r="1.0" fill="#5a0a10"/>
<circle cx="385.20" cy="491.90" r="1.0" fill="#5a0a10"/>
<circle cx="384.50" cy="507.60" r="1.0" fill="#5a0a10"/>
<line x1="354.40" y1="458.60" x2="414.60" y2="458.60" stroke="#2a0505" stroke-width="1.5" />
<line x1="384.50" y1="523.50" x2="384.50" y2="526.50" stroke="#1a1a1a" stroke-width="0.9" />
<text x="384.50" y="536.50" font-size="7.0" text-anchor="middle" font-weight="normal" fill="#2a2a2a" stroke="#2a2a2a" stroke-width="0.15" >No</text>
<text x="384.50" y="544.90" font-size="7.0" text-anchor="middle" font-weight="normal" fill="#2a2a2a" stroke="#2a2a2a" stroke-width="0.15" >n = 68</text>
<rect x="434.40" y="441.00" width="59.60" height="30.30" fill="#aed3f0"/>
<line x1="464.20" y1="404.60" x2="464.20" y2="441.00" stroke="#10283a" stroke-width="1.0" />
<line x1="464.20" y1="471.30" x2="464.20" y2="515.60" stroke="#10283a" stroke-width="1.0" />
<circle cx="461.00" cy="404.40" r="1.0" fill="#163650"/>
<circle cx="464.20" cy="404.40" r="1.0" fill="#163650"/>
<circle cx="467.40" cy="404.40" r="1.0" fill="#163650"/>
<circle cx="461.00" cy="416.90" r="1.0" fill="#163650"/>
<circle cx="464.20" cy="416.90" r="1.0" fill="#163650"/>
<circle cx="467.40" cy="416.90" r="1.0" fill="#163650"/>
<circle cx="458.20" cy="426.50" r="1.0" fill="#163650"/>
<circle cx="461.20" cy="426.50" r="1.0" fill="#163650"/>
<circle cx="464.20" cy="426.50" r="1.0" fill="#163650"/>
<circle cx="467.20" cy="426.50" r="1.0" fill="#163650"/>
<circle cx="470.20" cy="426.50" r="1.0" fill="#163650"/>
<circle cx="455.20" cy="433.80" r="1.0" fill="#163650"/>
<circle cx="458.20" cy="433.80" r="1.0" fill="#163650"/>
<circle cx="461.20" cy="433.80" r="1.0" fill="#163650"/>
<circle cx="464.20" cy="433.80" r="1.0" fill="#163650"/>
<circle cx="467.20" cy="433.80" r="1.0" fill="#163650"/>
<circle cx="470.20" cy="433.80" r="1.0" fill="#163650"/>
<circle cx="473.20" cy="433.80" r="1.0" fill="#163650"/>
<circle cx="458.20" cy="440.10" r="1.0" fill="#163650"/>
<circle cx="461.20" cy="440.10" r="1.0" fill="#163650"/>
<circle cx="464.20" cy="440.10" r="1.0" fill="#163650"/>
<circle cx="467.20" cy="440.10" r="1.0" fill="#163650"/>
<circle cx="470.20" cy="440.10" r="1.0" fill="#163650"/>
<circle cx="458.20" cy="442.80" r="1.0" fill="#163650"/>
<circle cx="461.20" cy="442.80" r="1.0" fill="#163650"/>
<circle cx="464.20" cy="442.80" r="1.0" fill="#163650"/>
<circle cx="467.20" cy="442.80" r="1.0" fill="#163650"/>
<circle cx="470.20" cy="442.80" r="1.0" fill="#163650"/>
<circle cx="450.70" cy="446.10" r="1.0" fill="#163650"/>
<circle cx="453.70" cy="446.10" r="1.0" fill="#163650"/>
<circle cx="456.70" cy="446.10" r="1.0" fill="#163650"/>
<circle cx="459.70" cy="446.10" r="1.0" fill="#163650"/>
<circle cx="462.70" cy="446.10" r="1.0" fill="#163650"/>
<circle cx="465.70" cy="446.10" r="1.0" fill="#163650"/>
<circle cx="468.70" cy="446.10" r="1.0" fill="#163650"/>
<circle cx="471.70" cy="446.10" r="1.0" fill="#163650"/>
<circle cx="474.70" cy="446.10" r="1.0" fill="#163650"/>
<circle cx="477.70" cy="446.10" r="1.0" fill="#163650"/>
<circle cx="456.70" cy="451.90" r="1.0" fill="#163650"/>
<circle cx="459.70" cy="451.90" r="1.0" fill="#163650"/>
<circle cx="462.70" cy="451.90" r="1.0" fill="#163650"/>
<circle cx="465.70" cy="451.90" r="1.0" fill="#163650"/>
<circle cx="468.70" cy="451.90" r="1.0" fill="#163650"/>
<circle cx="471.70" cy="451.90" r="1.0" fill="#163650"/>
<circle cx="456.70" cy="456.60" r="1.0" fill="#163650"/>
<circle cx="459.70" cy="456.60" r="1.0" fill="#163650"/>
<circle cx="462.70" cy="456.60" r="1.0" fill="#163650"/>
<circle cx="465.70" cy="456.60" r="1.0" fill="#163650"/>
<circle cx="468.70" cy="456.60" r="1.0" fill="#163650"/>
<circle cx="471.70" cy="456.60" r="1.0" fill="#163650"/>
<circle cx="459.70" cy="460.80" r="1.0" fill="#163650"/>
<circle cx="462.70" cy="460.80" r="1.0" fill="#163650"/>
<circle cx="465.70" cy="460.80" r="1.0" fill="#163650"/>
<circle cx="468.70" cy="460.80" r="1.0" fill="#163650"/>
<circle cx="455.20" cy="465.80" r="1.0" fill="#163650"/>
<circle cx="458.20" cy="465.80" r="1.0" fill="#163650"/>
<circle cx="461.20" cy="465.80" r="1.0" fill="#163650"/>
<circle cx="464.20" cy="465.80" r="1.0" fill="#163650"/>
<circle cx="467.20" cy="465.80" r="1.0" fill="#163650"/>
<circle cx="470.20" cy="465.80" r="1.0" fill="#163650"/>
<circle cx="473.20" cy="465.80" r="1.0" fill="#163650"/>
<circle cx="455.20" cy="469.60" r="1.0" fill="#163650"/>
<circle cx="458.20" cy="469.60" r="1.0" fill="#163650"/>
<circle cx="461.20" cy="469.60" r="1.0" fill="#163650"/>
<circle cx="464.20" cy="469.60" r="1.0" fill="#163650"/>
<circle cx="467.20" cy="469.60" r="1.0" fill="#163650"/>
<circle cx="470.20" cy="469.60" r="1.0" fill="#163650"/>
<circle cx="473.20" cy="469.60" r="1.0" fill="#163650"/>
<circle cx="456.70" cy="473.30" r="1.0" fill="#163650"/>
<circle cx="459.70" cy="473.30" r="1.0" fill="#163650"/>
<circle cx="462.70" cy="473.30" r="1.0" fill="#163650"/>
<circle cx="465.70" cy="473.30" r="1.0" fill="#163650"/>
<circle cx="468.70" cy="473.30" r="1.0" fill="#163650"/>
<circle cx="471.70" cy="473.30" r="1.0" fill="#163650"/>
<circle cx="458.20" cy="478.50" r="1.0" fill="#163650"/>
<circle cx="461.20" cy="478.50" r="1.0" fill="#163650"/>
<circle cx="464.20" cy="478.50" r="1.0" fill="#163650"/>
<circle cx="467.20" cy="478.50" r="1.0" fill="#163650"/>
<circle cx="470.20" cy="478.50" r="1.0" fill="#163650"/>
<circle cx="461.20" cy="483.80" r="1.0" fill="#163650"/>
<circle cx="464.20" cy="483.80" r="1.0" fill="#163650"/>
<circle cx="467.20" cy="483.80" r="1.0" fill="#163650"/>
<circle cx="463.50" cy="495.80" r="1.0" fill="#163650"/>
<circle cx="464.90" cy="495.80" r="1.0" fill="#163650"/>
<circle cx="463.50" cy="502.00" r="1.0" fill="#163650"/>
<circle cx="464.90" cy="502.00" r="1.0" fill="#163650"/>
<circle cx="463.50" cy="510.20" r="1.0" fill="#163650"/>
<circle cx="464.90" cy="510.20" r="1.0" fill="#163650"/>
<circle cx="461.80" cy="515.60" r="1.0" fill="#163650"/>
<circle cx="464.20" cy="515.60" r="1.0" fill="#163650"/>
<circle cx="466.60" cy="515.60" r="1.0" fill="#163650"/>
<line x1="434.40" y1="455.40" x2="494.00" y2="455.40" stroke="#0a1a2a" stroke-width="1.5" />
<line x1="464.20" y1="523.50" x2="464.20" y2="526.50" stroke="#1a1a1a" stroke-width="0.9" />
<text x="464.20" y="536.50" font-size="7.0" text-anchor="middle" font-weight="normal" fill="#2a2a2a" stroke="#2a2a2a" stroke-width="0.15" >Yes</text>
<text x="464.20" y="544.90" font-size="7.0" text-anchor="middle" font-weight="normal" fill="#2a2a2a" stroke="#2a2a2a" stroke-width="0.15" >n = 92</text>
<polyline points="384.50,400.90 384.50,397.70 464.20,397.70 464.20,400.90" fill="none" stroke="#484848" stroke-width="0.85"/>
<text x="424.35" y="396.00" font-size="6.3" text-anchor="middle" font-weight="normal" fill="#333" >ns</text>
<text x="424.7" y="558.00" font-size="9.0" font-weight="normal" fill="#2a2a2a" stroke="#2a2a2a" stroke-width="0.3" text-anchor="middle" textLength="33" lengthAdjust="spacingAndGlyphs">LDH &gt; ULN</text>
<text x="292.20" y="582.80" font-size="13" text-anchor="start" font-weight="bold" fill="#111" >H</text>
<line x1="336.60" y1="587.50" x2="336.60" y2="722.20" stroke="#1a1a1a" stroke-width="1.2" />
<line x1="336.00" y1="721.60" x2="512.80" y2="721.60" stroke="#1a1a1a" stroke-width="1.2" />
<line x1="333.40" y1="720.75" x2="336.60" y2="720.75" stroke="#1a1a1a" stroke-width="0.9" />
<text x="326.80" y="723.15" font-size="6.5" text-anchor="end" font-weight="normal" fill="#2a2a2a" stroke="#2a2a2a" stroke-width="0.15" >10</text>
<text x="327.60" y="720.15" font-size="3.8" text-anchor="start" font-weight="normal" fill="#2a2a2a" >0</text>
<line x1="335.00" y1="712.04" x2="336.60" y2="712.04" stroke="#1a1a1a" stroke-width="0.7" />
<line x1="335.00" y1="706.94" x2="336.60" y2="706.94" stroke="#1a1a1a" stroke-width="0.7" />
<line x1="335.00" y1="703.32" x2="336.60" y2="703.32" stroke="#1a1a1a" stroke-width="0.7" />
<line x1="335.00" y1="700.51" x2="336.60" y2="700.51" stroke="#1a1a1a" stroke-width="0.7" />
<line x1="335.00" y1="698.22" x2="336.60" y2="698.22" stroke="#1a1a1a" stroke-width="0.7" />
<line x1="335.00" y1="696.28" x2="336.60" y2="696.28" stroke="#1a1a1a" stroke-width="0.7" />
<line x1="335.00" y1="694.61" x2="336.60" y2="694.61" stroke="#1a1a1a" stroke-width="0.7" />
<line x1="335.00" y1="693.12" x2="336.60" y2="693.12" stroke="#1a1a1a" stroke-width="0.7" />
<line x1="333.40" y1="691.80" x2="336.60" y2="691.80" stroke="#1a1a1a" stroke-width="0.9" />
<text x="326.80" y="694.20" font-size="6.5" text-anchor="end" font-weight="normal" fill="#2a2a2a" stroke="#2a2a2a" stroke-width="0.15" >10</text>
<text x="327.60" y="691.20" font-size="3.8" text-anchor="start" font-weight="normal" fill="#2a2a2a" >1</text>
<line x1="335.00" y1="683.09" x2="336.60" y2="683.09" stroke="#1a1a1a" stroke-width="0.7" />
<line x1="335.00" y1="677.99" x2="336.60" y2="677.99" stroke="#1a1a1a" stroke-width="0.7" />
<line x1="335.00" y1="674.37" x2="336.60" y2="674.37" stroke="#1a1a1a" stroke-width="0.7" />
<line x1="335.00" y1="671.56" x2="336.60" y2="671.56" stroke="#1a1a1a" stroke-width="0.7" />
<line x1="335.00" y1="669.27" x2="336.60" y2="669.27" stroke="#1a1a1a" stroke-width="0.7" />
<line x1="335.00" y1="667.33" x2="336.60" y2="667.33" stroke="#1a1a1a" stroke-width="0.7" />
<line x1="335.00" y1="665.66" x2="336.60" y2="665.66" stroke="#1a1a1a" stroke-width="0.7" />
<line x1="335.00" y1="664.17" x2="336.60" y2="664.17" stroke="#1a1a1a" stroke-width="0.7" />
<line x1="333.40" y1="662.85" x2="336.60" y2="662.85" stroke="#1a1a1a" stroke-width="0.9" />
<text x="326.80" y="665.25" font-size="6.5" text-anchor="end" font-weight="normal" fill="#2a2a2a" stroke="#2a2a2a" stroke-width="0.15" >10</text>
<text x="327.60" y="662.25" font-size="3.8" text-anchor="start" font-weight="normal" fill="#2a2a2a" >2</text>
<line x1="335.00" y1="654.14" x2="336.60" y2="654.14" stroke="#1a1a1a" stroke-width="0.7" />
<line x1="335.00" y1="649.04" x2="336.60" y2="649.04" stroke="#1a1a1a" stroke-width="0.7" />
<line x1="335.00" y1="645.42" x2="336.60" y2="645.42" stroke="#1a1a1a" stroke-width="0.7" />
<line x1="335.00" y1="642.61" x2="336.60" y2="642.61" stroke="#1a1a1a" stroke-width="0.7" />
<line x1="335.00" y1="640.32" x2="336.60" y2="640.32" stroke="#1a1a1a" stroke-width="0.7" />
<line x1="335.00" y1="638.38" x2="336.60" y2="638.38" stroke="#1a1a1a" stroke-width="0.7" />
<line x1="335.00" y1="636.71" x2="336.60" y2="636.71" stroke="#1a1a1a" stroke-width="0.7" />
<line x1="335.00" y1="635.22" x2="336.60" y2="635.22" stroke="#1a1a1a" stroke-width="0.7" />
<line x1="333.40" y1="633.90" x2="336.60" y2="633.90" stroke="#1a1a1a" stroke-width="0.9" />
<text x="326.80" y="636.30" font-size="6.5" text-anchor="end" font-weight="normal" fill="#2a2a2a" stroke="#2a2a2a" stroke-width="0.15" >10</text>
<text x="327.60" y="633.30" font-size="3.8" text-anchor="start" font-weight="normal" fill="#2a2a2a" >3</text>
<line x1="335.00" y1="625.19" x2="336.60" y2="625.19" stroke="#1a1a1a" stroke-width="0.7" />
<line x1="335.00" y1="620.09" x2="336.60" y2="620.09" stroke="#1a1a1a" stroke-width="0.7" />
<line x1="335.00" y1="616.47" x2="336.60" y2="616.47" stroke="#1a1a1a" stroke-width="0.7" />
<line x1="335.00" y1="613.66" x2="336.60" y2="613.66" stroke="#1a1a1a" stroke-width="0.7" />
<line x1="335.00" y1="611.37" x2="336.60" y2="611.37" stroke="#1a1a1a" stroke-width="0.7" />
<line x1="335.00" y1="609.43" x2="336.60" y2="609.43" stroke="#1a1a1a" stroke-width="0.7" />
<line x1="335.00" y1="607.76" x2="336.60" y2="607.76" stroke="#1a1a1a" stroke-width="0.7" />
<line x1="335.00" y1="606.27" x2="336.60" y2="606.27" stroke="#1a1a1a" stroke-width="0.7" />
<line x1="333.40" y1="604.95" x2="336.60" y2="604.95" stroke="#1a1a1a" stroke-width="0.9" />
<text x="326.80" y="607.35" font-size="6.5" text-anchor="end" font-weight="normal" fill="#2a2a2a" stroke="#2a2a2a" stroke-width="0.15" >10</text>
<text x="327.60" y="604.35" font-size="3.8" text-anchor="start" font-weight="normal" fill="#2a2a2a" >4</text>
<line x1="335.00" y1="596.24" x2="336.60" y2="596.24" stroke="#1a1a1a" stroke-width="0.7" />
<line x1="335.00" y1="591.14" x2="336.60" y2="591.14" stroke="#1a1a1a" stroke-width="0.7" />
<line x1="335.00" y1="587.52" x2="336.60" y2="587.52" stroke="#1a1a1a" stroke-width="0.7" />
<text x="0" y="0" font-size="8.8" font-weight="normal" fill="#2a2a2a" stroke="#2a2a2a" stroke-width="0.3" text-anchor="middle" textLength="70.5" lengthAdjust="spacingAndGlyphs" transform="translate(313.4 654.55) rotate(-90)">CAR AUC (day x cells/µl)</text>
<rect x="354.50" y="639.00" width="60.20" height="30.60" fill="#aed69c"/>
<line x1="384.60" y1="601.30" x2="384.60" y2="639.00" stroke="#0a2a0a" stroke-width="1.0" />
<line x1="384.60" y1="669.60" x2="384.60" y2="713.80" stroke="#0a2a0a" stroke-width="1.0" />
<circle cx="384.60" cy="601.30" r="1.0" fill="#104010"/>
<circle cx="383.90" cy="604.90" r="1.0" fill="#104010"/>
<circle cx="385.30" cy="604.90" r="1.0" fill="#104010"/>
<circle cx="381.60" cy="615.10" r="1.0" fill="#104010"/>
<circle cx="384.60" cy="615.10" r="1.0" fill="#104010"/>
<circle cx="387.60" cy="615.10" r="1.0" fill="#104010"/>
<circle cx="384.60" cy="622.10" r="1.0" fill="#104010"/>
<circle cx="378.60" cy="624.70" r="1.0" fill="#104010"/>
<circle cx="381.60" cy="624.70" r="1.0" fill="#104010"/>
<circle cx="384.60" cy="624.70" r="1.0" fill="#104010"/>
<circle cx="387.60" cy="624.70" r="1.0" fill="#104010"/>
<circle cx="390.60" cy="624.70" r="1.0" fill="#104010"/>
<circle cx="381.60" cy="629.70" r="1.0" fill="#104010"/>
<circle cx="384.60" cy="629.70" r="1.0" fill="#104010"/>
<circle cx="387.60" cy="629.70" r="1.0" fill="#104010"/>
<circle cx="378.60" cy="633.80" r="1.0" fill="#104010"/>
<circle cx="381.60" cy="633.80" r="1.0" fill="#104010"/>
<circle cx="384.60" cy="633.80" r="1.0" fill="#104010"/>
<circle cx="387.60" cy="633.80" r="1.0" fill="#104010"/>
<circle cx="390.60" cy="633.80" r="1.0" fill="#104010"/>
<circle cx="375.60" cy="637.60" r="1.0" fill="#104010"/>
<circle cx="378.60" cy="637.60" r="1.0" fill="#104010"/>
<circle cx="381.60" cy="637.60" r="1.0" fill="#104010"/>
<circle cx="384.60" cy="637.60" r="1.0" fill="#104010"/>
<circle cx="387.60" cy="637.60" r="1.0" fill="#104010"/>
<circle cx="390.60" cy="637.60" r="1.0" fill="#104010"/>
<circle cx="393.60" cy="637.60" r="1.0" fill="#104010"/>
<circle cx="380.10" cy="643.20" r="1.0" fill="#104010"/>
<circle cx="383.10" cy="643.20" r="1.0" fill="#104010"/>
<circle cx="386.10" cy="643.20" r="1.0" fill="#104010"/>
<circle cx="389.10" cy="643.20" r="1.0" fill="#104010"/>
<circle cx="375.60" cy="646.70" r="1.0" fill="#104010"/>
<circle cx="378.60" cy="646.70" r="1.0" fill="#104010"/>
<circle cx="381.60" cy="646.70" r="1.0" fill="#104010"/>
<circle cx="384.60" cy="646.70" r="1.0" fill="#104010"/>
<circle cx="387.60" cy="646.70" r="1.0" fill="#104010"/>
<circle cx="390.60" cy="646.70" r="1.0" fill="#104010"/>
<circle cx="393.60" cy="646.70" r="1.0" fill="#104010"/>
<circle cx="378.60" cy="650.30" r="1.0" fill="#104010"/>
<circle cx="381.60" cy="650.30" r="1.0" fill="#104010"/>
<circle cx="384.60" cy="650.30" r="1.0" fill="#104010"/>
<circle cx="387.60" cy="650.30" r="1.0" fill="#104010"/>
<circle cx="390.60" cy="650.30" r="1.0" fill="#104010"/>
<circle cx="377.10" cy="654.70" r="1.0" fill="#104010"/>
<circle cx="380.10" cy="654.70" r="1.0" fill="#104010"/>
<circle cx="383.10" cy="654.70" r="1.0" fill="#104010"/>
<circle cx="386.10" cy="654.70" r="1.0" fill="#104010"/>
<circle cx="389.10" cy="654.70" r="1.0" fill="#104010"/>
<circle cx="392.10" cy="654.70" r="1.0" fill="#104010"/>
<circle cx="383.10" cy="659.90" r="1.0" fill="#104010"/>
<circle cx="386.10" cy="659.90" r="1.0" fill="#104010"/>
<circle cx="372.60" cy="663.80" r="1.0" fill="#104010"/>
<circle cx="375.60" cy="663.80" r="1.0" fill="#104010"/>
<circle cx="378.60" cy="663.80" r="1.0" fill="#104010"/>
<circle cx="381.60" cy="663.80" r="1.0" fill="#104010"/>
<circle cx="384.60" cy="663.80" r="1.0" fill="#104010"/>
<circle cx="387.60" cy="663.80" r="1.0" fill="#104010"/>
<circle cx="390.60" cy="663.80" r="1.0" fill="#104010"/>
<circle cx="393.60" cy="663.80" r="1.0" fill="#104010"/>
<circle cx="396.60" cy="663.80" r="1.0" fill="#104010"/>
<circle cx="372.60" cy="668.50" r="1.0" fill="#104010"/>
<circle cx="375.60" cy="668.50" r="1.0" fill="#104010"/>
<circle cx="378.60" cy="668.50" r="1.0" fill="#104010"/>
<circle cx="381.60" cy="668.50" r="1.0" fill="#104010"/>
<circle cx="384.60" cy="668.50" r="1.0" fill="#104010"/>
<circle cx="387.60" cy="668.50" r="1.0" fill="#104010"/>
<circle cx="390.60" cy="668.50" r="1.0" fill="#104010"/>
<circle cx="393.60" cy="668.50" r="1.0" fill="#104010"/>
<circle cx="396.60" cy="668.50" r="1.0" fill="#104010"/>
<circle cx="376.80" cy="672.50" r="1.0" fill="#104010"/>
<circle cx="379.40" cy="672.50" r="1.0" fill="#104010"/>
<circle cx="382.00" cy="672.50" r="1.0" fill="#104010"/>
<circle cx="384.60" cy="672.50" r="1.0" fill="#104010"/>
<circle cx="387.20" cy="672.50" r="1.0" fill="#104010"/>
<circle cx="389.80" cy="672.50" r="1.0" fill="#104010"/>
<circle cx="392.40" cy="672.50" r="1.0" fill="#104010"/>
<circle cx="381.60" cy="677.10" r="1.0" fill="#104010"/>
<circle cx="384.60" cy="677.10" r="1.0" fill="#104010"/>
<circle cx="387.60" cy="677.10" r="1.0" fill="#104010"/>
<circle cx="376.80" cy="681.20" r="1.0" fill="#104010"/>
<circle cx="379.40" cy="681.20" r="1.0" fill="#104010"/>
<circle cx="382.00" cy="681.20" r="1.0" fill="#104010"/>
<circle cx="384.60" cy="681.20" r="1.0" fill="#104010"/>
<circle cx="387.20" cy="681.20" r="1.0" fill="#104010"/>
<circle cx="389.80" cy="681.20" r="1.0" fill="#104010"/>
<circle cx="392.40" cy="681.20" r="1.0" fill="#104010"/>
<circle cx="381.60" cy="692.90" r="1.0" fill="#104010"/>
<circle cx="384.60" cy="692.90" r="1.0" fill="#104010"/>
<circle cx="387.60" cy="692.90" r="1.0" fill="#104010"/>
<circle cx="384.60" cy="701.30" r="1.0" fill="#104010"/>
<circle cx="383.90" cy="705.20" r="1.0" fill="#104010"/>
<circle cx="385.30" cy="705.20" r="1.0" fill="#104010"/>
<circle cx="383.90" cy="713.80" r="1.0" fill="#104010"/>
<circle cx="385.30" cy="713.80" r="1.0" fill="#104010"/>
<line x1="354.50" y1="654.70" x2="414.70" y2="654.70" stroke="#0a200a" stroke-width="1.5" />
<line x1="384.60" y1="721.60" x2="384.60" y2="724.60" stroke="#1a1a1a" stroke-width="0.9" />
<text x="384.60" y="734.60" font-size="7.0" text-anchor="middle" font-weight="normal" fill="#2a2a2a" stroke="#2a2a2a" stroke-width="0.15" >No</text>
<text x="384.60" y="743.00" font-size="7.0" text-anchor="middle" font-weight="normal" fill="#2a2a2a" stroke="#2a2a2a" stroke-width="0.15" >n = 92</text>
<rect x="434.40" y="642.80" width="59.60" height="25.70" fill="#a583ae"/>
<line x1="464.20" y1="604.00" x2="464.20" y2="642.80" stroke="#1a0a1a" stroke-width="1.0" />
<line x1="464.20" y1="668.50" x2="464.20" y2="708.00" stroke="#1a0a1a" stroke-width="1.0" />
<circle cx="464.20" cy="604.00" r="1.0" fill="#200a20"/>
<circle cx="464.20" cy="616.70" r="1.0" fill="#200a20"/>
<circle cx="464.20" cy="622.40" r="1.0" fill="#200a20"/>
<circle cx="461.20" cy="625.90" r="1.0" fill="#200a20"/>
<circle cx="464.20" cy="625.90" r="1.0" fill="#200a20"/>
<circle cx="467.20" cy="625.90" r="1.0" fill="#200a20"/>
<circle cx="461.20" cy="632.20" r="1.0" fill="#200a20"/>
<circle cx="464.20" cy="632.20" r="1.0" fill="#200a20"/>
<circle cx="467.20" cy="632.20" r="1.0" fill="#200a20"/>
<circle cx="459.40" cy="638.40" r="1.0" fill="#200a20"/>
<circle cx="461.80" cy="638.40" r="1.0" fill="#200a20"/>
<circle cx="464.20" cy="638.40" r="1.0" fill="#200a20"/>
<circle cx="466.60" cy="638.40" r="1.0" fill="#200a20"/>
<circle cx="469.00" cy="638.40" r="1.0" fill="#200a20"/>
<circle cx="458.20" cy="641.20" r="1.0" fill="#200a20"/>
<circle cx="461.20" cy="641.20" r="1.0" fill="#200a20"/>
<circle cx="464.20" cy="641.20" r="1.0" fill="#200a20"/>
<circle cx="467.20" cy="641.20" r="1.0" fill="#200a20"/>
<circle cx="470.20" cy="641.20" r="1.0" fill="#200a20"/>
<circle cx="459.70" cy="645.60" r="1.0" fill="#200a20"/>
<circle cx="462.70" cy="645.60" r="1.0" fill="#200a20"/>
<circle cx="465.70" cy="645.60" r="1.0" fill="#200a20"/>
<circle cx="468.70" cy="645.60" r="1.0" fill="#200a20"/>
<circle cx="458.20" cy="650.30" r="1.0" fill="#200a20"/>
<circle cx="461.20" cy="650.30" r="1.0" fill="#200a20"/>
<circle cx="464.20" cy="650.30" r="1.0" fill="#200a20"/>
<circle cx="467.20" cy="650.30" r="1.0" fill="#200a20"/>
<circle cx="470.20" cy="650.30" r="1.0" fill="#200a20"/>
<circle cx="453.70" cy="654.80" r="1.0" fill="#200a20"/>
<circle cx="456.70" cy="654.80" r="1.0" fill="#200a20"/>
<circle cx="459.70" cy="654.80" r="1.0" fill="#200a20"/>
<circle cx="462.70" cy="654.80" r="1.0" fill="#200a20"/>
<circle cx="465.70" cy="654.80" r="1.0" fill="#200a20"/>
<circle cx="468.70" cy="654.80" r="1.0" fill="#200a20"/>
<circle cx="471.70" cy="654.80" r="1.0" fill="#200a20"/>
<circle cx="474.70" cy="654.80" r="1.0" fill="#200a20"/>
<circle cx="453.70" cy="659.00" r="1.0" fill="#200a20"/>
<circle cx="456.70" cy="659.00" r="1.0" fill="#200a20"/>
<circle cx="459.70" cy="659.00" r="1.0" fill="#200a20"/>
<circle cx="462.70" cy="659.00" r="1.0" fill="#200a20"/>
<circle cx="465.70" cy="659.00" r="1.0" fill="#200a20"/>
<circle cx="468.70" cy="659.00" r="1.0" fill="#200a20"/>
<circle cx="471.70" cy="659.00" r="1.0" fill="#200a20"/>
<circle cx="474.70" cy="659.00" r="1.0" fill="#200a20"/>
<circle cx="459.70" cy="663.40" r="1.0" fill="#200a20"/>
<circle cx="462.70" cy="663.40" r="1.0" fill="#200a20"/>
<circle cx="465.70" cy="663.40" r="1.0" fill="#200a20"/>
<circle cx="468.70" cy="663.40" r="1.0" fill="#200a20"/>
<circle cx="459.70" cy="667.80" r="1.0" fill="#200a20"/>
<circle cx="462.70" cy="667.80" r="1.0" fill="#200a20"/>
<circle cx="465.70" cy="667.80" r="1.0" fill="#200a20"/>
<circle cx="468.70" cy="667.80" r="1.0" fill="#200a20"/>
<circle cx="458.20" cy="671.80" r="1.0" fill="#200a20"/>
<circle cx="461.20" cy="671.80" r="1.0" fill="#200a20"/>
<circle cx="464.20" cy="671.80" r="1.0" fill="#200a20"/>
<circle cx="467.20" cy="671.80" r="1.0" fill="#200a20"/>
<circle cx="470.20" cy="671.80" r="1.0" fill="#200a20"/>
<circle cx="460.60" cy="677.00" r="1.0" fill="#200a20"/>
<circle cx="463.00" cy="677.00" r="1.0" fill="#200a20"/>
<circle cx="465.40" cy="677.00" r="1.0" fill="#200a20"/>
<circle cx="467.80" cy="677.00" r="1.0" fill="#200a20"/>
<circle cx="463.50" cy="682.70" r="1.0" fill="#200a20"/>
<circle cx="464.90" cy="682.70" r="1.0" fill="#200a20"/>
<circle cx="463.50" cy="687.90" r="1.0" fill="#200a20"/>
<circle cx="464.90" cy="687.90" r="1.0" fill="#200a20"/>
<circle cx="464.20" cy="699.40" r="1.0" fill="#200a20"/>
<circle cx="463.50" cy="708.00" r="1.0" fill="#200a20"/>
<circle cx="464.90" cy="708.00" r="1.0" fill="#200a20"/>
<circle cx="464.20" cy="714.20" r="1.0" fill="#200a20"/>
<line x1="434.40" y1="655.80" x2="494.00" y2="655.80" stroke="#1a051a" stroke-width="1.5" />
<line x1="464.20" y1="721.60" x2="464.20" y2="724.60" stroke="#1a1a1a" stroke-width="0.9" />
<text x="464.20" y="734.60" font-size="7.0" text-anchor="middle" font-weight="normal" fill="#2a2a2a" stroke="#2a2a2a" stroke-width="0.15" >Yes</text>
<text x="464.20" y="743.00" font-size="7.0" text-anchor="middle" font-weight="normal" fill="#2a2a2a" stroke="#2a2a2a" stroke-width="0.15" >n = 68</text>
<polyline points="384.60,599.00 384.60,595.40 464.20,595.40 464.20,599.00" fill="none" stroke="#484848" stroke-width="0.85"/>
<text x="424.40" y="594.00" font-size="6.3" text-anchor="middle" font-weight="normal" fill="#333" >ns</text>
<text x="424.7" y="756.40" font-size="9.0" font-weight="normal" fill="#2a2a2a" stroke="#2a2a2a" stroke-width="0.3" text-anchor="middle" textLength="27.5" lengthAdjust="spacingAndGlyphs">Age &gt; 65</text>
<rect x="0.5" y="0.5" width="519" height="765" fill="none" stroke="#404040" stroke-width="1.2"/>
</svg>
</body></html>
